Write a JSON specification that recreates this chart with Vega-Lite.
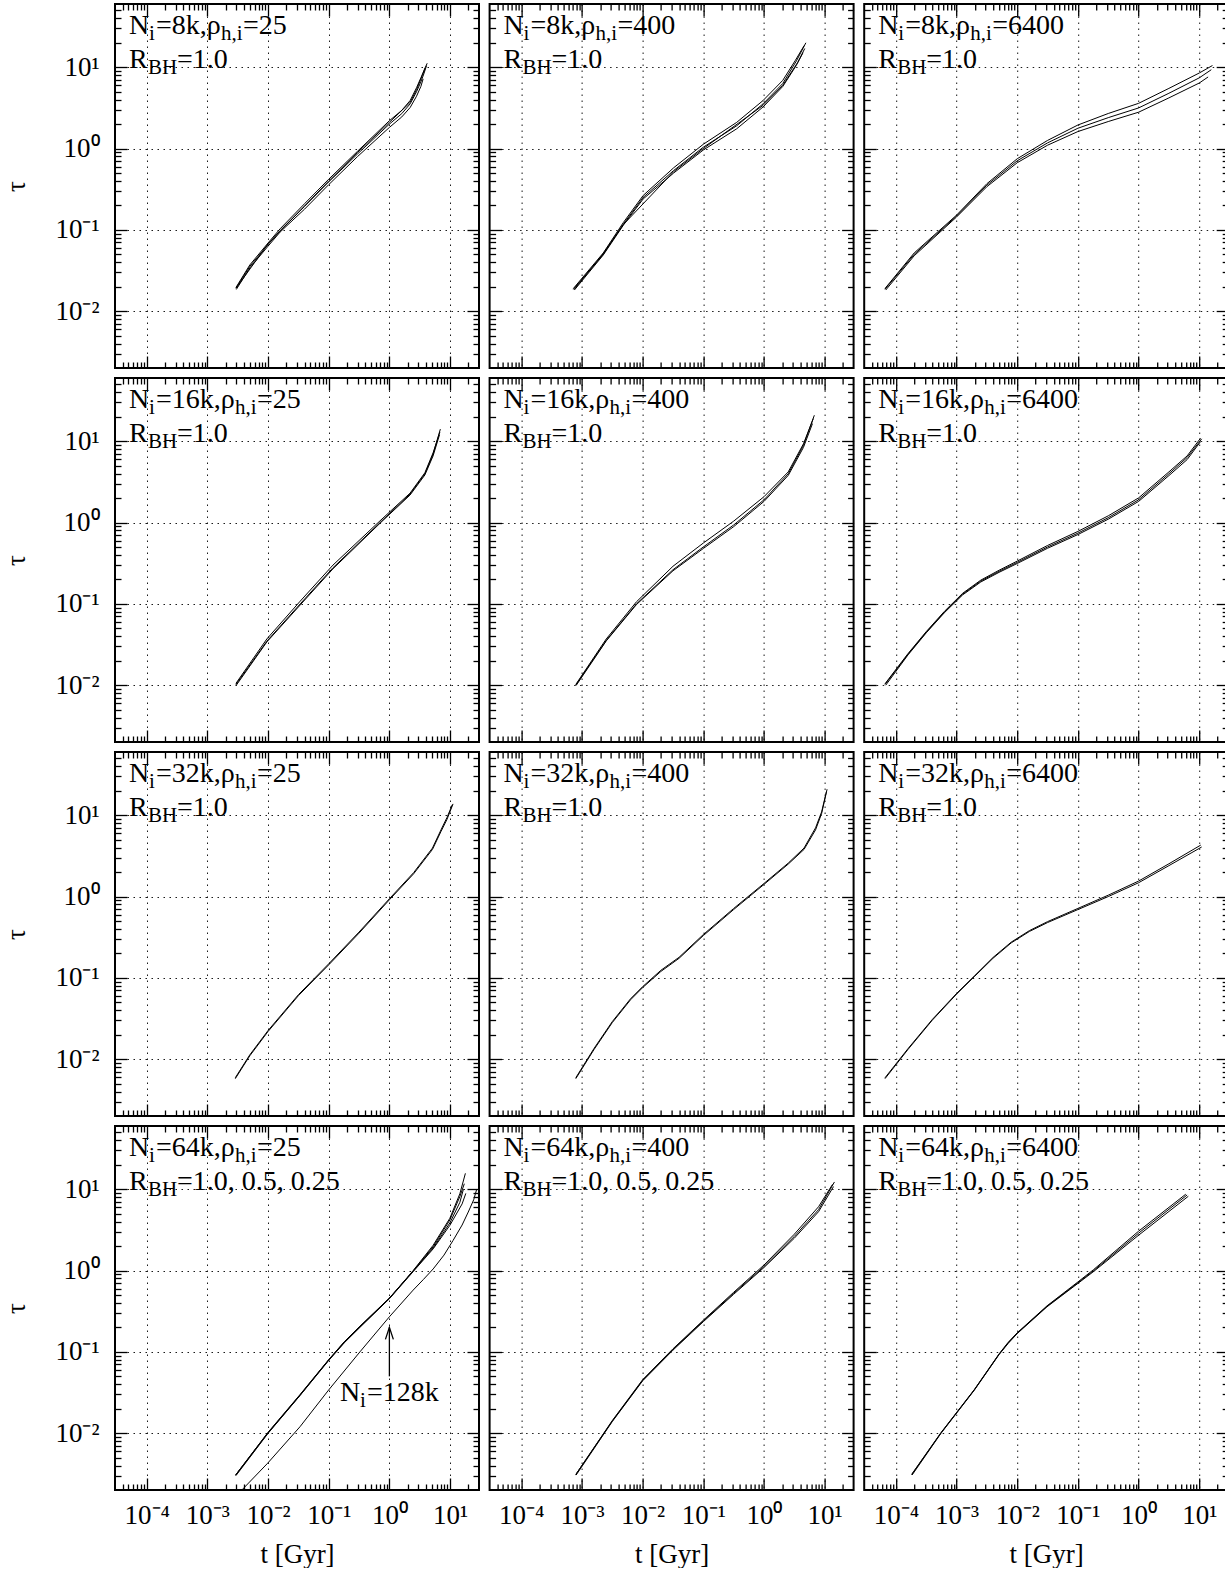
{
"$schema":"https://vega.github.io/schema/vega-lite/v6.json",
"padding":{"left":1,"top":2,"right":0,"bottom":0},
"background":"white",
"config":{
 "view":{"stroke":"black","strokeWidth":2},
 "axis":{"domain":false,"labels":false,"ticks":true,"grid":false,"tickColor":"black","tickWidth":1.3,"tickSize":-12,"labelFont":"Liberation Serif","labelFontSize":27,"labelColor":"black","titleFont":"Liberation Serif","titleFontSize":27,"titleFontWeight":"normal","titleColor":"black","gridColor":"#1a1a1a","gridDash":[1.5,4.5],"gridWidth":1,"gridOpacity":1},
 "axisX":{"labelPadding":12,"titlePadding":13},
 "axisY":{"labelPadding":16,"titlePadding":24},
 "text":{"font":"Liberation Serif","fontSize":28,"align":"left","baseline":"alphabetic","color":"black"},
 "line":{"color":"black","strokeWidth":1}
},
"datasets":{
"panels":[
{"p":1,"a":"=8k,ρ","b":"=25","c":"=1.0"},
{"p":2,"a":"=8k,ρ","b":"=400","c":"=1.0"},
{"p":3,"a":"=8k,ρ","b":"=6400","c":"=1.0"},
{"p":4,"a":"=16k,ρ","b":"=25","c":"=1.0"},
{"p":5,"a":"=16k,ρ","b":"=400","c":"=1.0"},
{"p":6,"a":"=16k,ρ","b":"=6400","c":"=1.0"},
{"p":7,"a":"=32k,ρ","b":"=25","c":"=1.0"},
{"p":8,"a":"=32k,ρ","b":"=400","c":"=1.0"},
{"p":9,"a":"=32k,ρ","b":"=6400","c":"=1.0"},
{"p":10,"a":"=64k,ρ","b":"=25","c":"=1.0, 0.5, 0.25","d":"=128k"},
{"p":11,"a":"=64k,ρ","b":"=400","c":"=1.0, 0.5, 0.25"},
{"p":12,"a":"=64k,ρ","b":"=6400","c":"=1.0, 0.5, 0.25"}
],
"curves":[
{"p":1,"r":"a","t":0.00295,"tau":0.0195},{"p":1,"r":"a","t":0.005,"tau":0.037},{"p":1,"r":"a","t":0.01,"tau":0.069},{"p":1,"r":"a","t":0.0158,"tau":0.103},{"p":1,"r":"a","t":0.04,"tau":0.21},{"p":1,"r":"a","t":0.1,"tau":0.42},{"p":1,"r":"a","t":0.3,"tau":0.93},{"p":1,"r":"a","t":1,"tau":2.2},{"p":1,"r":"a","t":1.6,"tau":2.95},{"p":1,"r":"a","t":2.2,"tau":3.9},{"p":1,"r":"a","t":2.8,"tau":5.6},{"p":1,"r":"a","t":3.3,"tau":7.4},{"p":1,"r":"a","t":3.8,"tau":9.5},{"p":1,"r":"a","t":4.2,"tau":11.2},
{"p":1,"r":"b","t":0.00295,"tau":0.0191},{"p":1,"r":"b","t":0.005,"tau":0.0355},{"p":1,"r":"b","t":0.01,"tau":0.066},{"p":1,"r":"b","t":0.0158,"tau":0.098},{"p":1,"r":"b","t":0.04,"tau":0.195},{"p":1,"r":"b","t":0.1,"tau":0.389},{"p":1,"r":"b","t":0.3,"tau":0.861},{"p":1,"r":"b","t":1,"tau":2.0},{"p":1,"r":"b","t":1.6,"tau":2.69},{"p":1,"r":"b","t":2.2,"tau":3.55},{"p":1,"r":"b","t":2.8,"tau":5.0},{"p":1,"r":"b","t":3.3,"tau":6.6},{"p":1,"r":"b","t":3.7,"tau":8.3},{"p":1,"r":"b","t":4.1,"tau":10.5},
{"p":1,"r":"c","t":0.003,"tau":0.0185},{"p":1,"r":"c","t":0.005,"tau":0.034},{"p":1,"r":"c","t":0.01,"tau":0.063},{"p":1,"r":"c","t":0.0158,"tau":0.094},{"p":1,"r":"c","t":0.04,"tau":0.18},{"p":1,"r":"c","t":0.1,"tau":0.36},{"p":1,"r":"c","t":0.3,"tau":0.8},{"p":1,"r":"c","t":1,"tau":1.82},{"p":1,"r":"c","t":1.6,"tau":2.45},{"p":1,"r":"c","t":2.2,"tau":3.2},{"p":1,"r":"c","t":2.8,"tau":4.4},{"p":1,"r":"c","t":3.3,"tau":5.8},{"p":1,"r":"c","t":3.6,"tau":7.2},
{"p":1,"r":"d","t":0.003,"tau":0.0193},{"p":1,"r":"d","t":0.01,"tau":0.0675},{"p":1,"r":"d","t":0.1,"tau":0.4},{"p":1,"r":"d","t":0.3,"tau":0.9},{"p":1,"r":"d","t":1,"tau":2.1},{"p":1,"r":"d","t":2.2,"tau":3.7},{"p":1,"r":"d","t":2.8,"tau":5.3},{"p":1,"r":"d","t":3.5,"tau":8.0},{"p":1,"r":"d","t":3.9,"tau":9.8},
{"p":2,"r":"a","t":0.00072,"tau":0.019},{"p":2,"r":"a","t":0.00224,"tau":0.052},{"p":2,"r":"a","t":0.0048,"tau":0.123},{"p":2,"r":"a","t":0.0102,"tau":0.265},{"p":2,"r":"a","t":0.0324,"tau":0.58},{"p":2,"r":"a","t":0.1,"tau":1.13},{"p":2,"r":"a","t":0.355,"tau":2.1},{"p":2,"r":"a","t":0.966,"tau":3.9},{"p":2,"r":"a","t":2.04,"tau":6.9},{"p":2,"r":"a","t":3.3,"tau":12.2},{"p":2,"r":"a","t":4.6,"tau":18.5},
{"p":2,"r":"b","t":0.00072,"tau":0.0186},{"p":2,"r":"b","t":0.00224,"tau":0.05},{"p":2,"r":"b","t":0.0048,"tau":0.1175},{"p":2,"r":"b","t":0.0102,"tau":0.251},{"p":2,"r":"b","t":0.0324,"tau":0.537},{"p":2,"r":"b","t":0.1,"tau":1.04},{"p":2,"r":"b","t":0.355,"tau":1.905},{"p":2,"r":"b","t":0.966,"tau":3.55},{"p":2,"r":"b","t":2.04,"tau":6.31},{"p":2,"r":"b","t":3.43,"tau":12.0},{"p":2,"r":"b","t":4.9,"tau":20.0},
{"p":2,"r":"c","t":0.00075,"tau":0.0182},{"p":2,"r":"c","t":0.00224,"tau":0.049},{"p":2,"r":"c","t":0.0048,"tau":0.114},{"p":2,"r":"c","t":0.0102,"tau":0.24},{"p":2,"r":"c","t":0.0324,"tau":0.5},{"p":2,"r":"c","t":0.1,"tau":0.96},{"p":2,"r":"c","t":0.355,"tau":1.75},{"p":2,"r":"c","t":0.966,"tau":3.25},{"p":2,"r":"c","t":2.04,"tau":5.8},{"p":2,"r":"c","t":3.4,"tau":10.5},{"p":2,"r":"c","t":4.4,"tau":15.1},
{"p":2,"r":"d","t":0.00074,"tau":0.0184},{"p":2,"r":"d","t":0.00224,"tau":0.051},{"p":2,"r":"d","t":0.0048,"tau":0.116},{"p":2,"r":"d","t":0.0324,"tau":0.52},{"p":2,"r":"d","t":0.1,"tau":1.0},{"p":2,"r":"d","t":0.966,"tau":3.4},{"p":2,"r":"d","t":2.04,"tau":6.0},{"p":2,"r":"d","t":3.6,"tau":11.5},{"p":2,"r":"d","t":4.7,"tau":17.0},
{"p":3,"r":"a","t":0.000066,"tau":0.019},{"p":3,"r":"a","t":0.0002,"tau":0.052},{"p":3,"r":"a","t":0.001,"tau":0.152},{"p":3,"r":"a","t":0.00316,"tau":0.37},{"p":3,"r":"a","t":0.01,"tau":0.75},{"p":3,"r":"a","t":0.0316,"tau":1.26},{"p":3,"r":"a","t":0.1,"tau":1.95},{"p":3,"r":"a","t":0.316,"tau":2.7},{"p":3,"r":"a","t":1,"tau":3.6},{"p":3,"r":"a","t":3.16,"tau":5.5},{"p":3,"r":"a","t":10,"tau":8.5},{"p":3,"r":"a","t":16.5,"tau":10.5},
{"p":3,"r":"b","t":0.000066,"tau":0.0186},{"p":3,"r":"b","t":0.0002,"tau":0.05},{"p":3,"r":"b","t":0.001,"tau":0.148},{"p":3,"r":"b","t":0.00316,"tau":0.355},{"p":3,"r":"b","t":0.01,"tau":0.708},{"p":3,"r":"b","t":0.0316,"tau":1.175},{"p":3,"r":"b","t":0.1,"tau":1.778},{"p":3,"r":"b","t":0.316,"tau":2.4},{"p":3,"r":"b","t":1,"tau":3.16},{"p":3,"r":"b","t":3.16,"tau":4.79},{"p":3,"r":"b","t":10,"tau":7.41},{"p":3,"r":"b","t":15.8,"tau":9.33},
{"p":3,"r":"c","t":0.000068,"tau":0.0182},{"p":3,"r":"c","t":0.0002,"tau":0.048},{"p":3,"r":"c","t":0.001,"tau":0.144},{"p":3,"r":"c","t":0.00316,"tau":0.34},{"p":3,"r":"c","t":0.01,"tau":0.67},{"p":3,"r":"c","t":0.0316,"tau":1.1},{"p":3,"r":"c","t":0.1,"tau":1.62},{"p":3,"r":"c","t":0.316,"tau":2.15},{"p":3,"r":"c","t":1,"tau":2.8},{"p":3,"r":"c","t":3.16,"tau":4.2},{"p":3,"r":"c","t":10,"tau":6.4},{"p":3,"r":"c","t":14,"tau":7.6},
{"p":4,"r":"a","t":0.00295,"tau":0.0105},{"p":4,"r":"a","t":0.00955,"tau":0.037},{"p":4,"r":"a","t":0.0339,"tau":0.108},{"p":4,"r":"a","t":0.1175,"tau":0.3},{"p":4,"r":"a","t":0.7,"tau":1.05},{"p":4,"r":"a","t":2.19,"tau":2.3},{"p":4,"r":"a","t":3.85,"tau":4.1},{"p":4,"r":"a","t":5.25,"tau":7.2},{"p":4,"r":"a","t":6.8,"tau":13.0},
{"p":4,"r":"b","t":0.00295,"tau":0.0102},{"p":4,"r":"b","t":0.00955,"tau":0.0347},{"p":4,"r":"b","t":0.0339,"tau":0.1},{"p":4,"r":"b","t":0.1175,"tau":0.278},{"p":4,"r":"b","t":0.7,"tau":1.0},{"p":4,"r":"b","t":2.19,"tau":2.24},{"p":4,"r":"b","t":3.85,"tau":3.98},{"p":4,"r":"b","t":5.25,"tau":6.92},{"p":4,"r":"b","t":6.92,"tau":14.1},
{"p":4,"r":"c","t":0.003,"tau":0.01},{"p":4,"r":"c","t":0.00955,"tau":0.034},{"p":4,"r":"c","t":0.0339,"tau":0.097},{"p":4,"r":"c","t":0.1175,"tau":0.27},{"p":4,"r":"c","t":0.7,"tau":0.98},{"p":4,"r":"c","t":2.19,"tau":2.18},{"p":4,"r":"c","t":3.85,"tau":3.85},{"p":4,"r":"c","t":5.25,"tau":6.6},{"p":4,"r":"c","t":6.7,"tau":12.0},
{"p":5,"r":"a","t":0.00079,"tau":0.0102},{"p":5,"r":"a","t":0.00251,"tau":0.037},{"p":5,"r":"a","t":0.0079,"tau":0.106},{"p":5,"r":"a","t":0.0316,"tau":0.29},{"p":5,"r":"a","t":0.1,"tau":0.56},{"p":5,"r":"a","t":0.316,"tau":1.04},{"p":5,"r":"a","t":1,"tau":2.08},{"p":5,"r":"a","t":2.51,"tau":4.2},{"p":5,"r":"a","t":4.47,"tau":9.3},{"p":5,"r":"a","t":6.5,"tau":19.0},
{"p":5,"r":"b","t":0.00079,"tau":0.01},{"p":5,"r":"b","t":0.00251,"tau":0.0355},{"p":5,"r":"b","t":0.0079,"tau":0.1},{"p":5,"r":"b","t":0.0316,"tau":0.263},{"p":5,"r":"b","t":0.1,"tau":0.501},{"p":5,"r":"b","t":0.316,"tau":0.933},{"p":5,"r":"b","t":1,"tau":1.905},{"p":5,"r":"b","t":2.51,"tau":3.98},{"p":5,"r":"b","t":4.47,"tau":8.91},{"p":5,"r":"b","t":6.76,"tau":20.9},
{"p":5,"r":"c","t":0.0008,"tau":0.0099},{"p":5,"r":"c","t":0.00251,"tau":0.035},{"p":5,"r":"c","t":0.0079,"tau":0.098},{"p":5,"r":"c","t":0.0316,"tau":0.255},{"p":5,"r":"c","t":0.1,"tau":0.48},{"p":5,"r":"c","t":0.316,"tau":0.89},{"p":5,"r":"c","t":1,"tau":1.82},{"p":5,"r":"c","t":2.51,"tau":3.8},{"p":5,"r":"c","t":4.47,"tau":8.4},{"p":5,"r":"c","t":6.3,"tau":16.5},
{"p":6,"r":"a","t":0.000066,"tau":0.0104},{"p":6,"r":"a","t":0.0001585,"tau":0.0245},{"p":6,"r":"a","t":0.000316,"tau":0.0456},{"p":6,"r":"a","t":0.000631,"tau":0.081},{"p":6,"r":"a","t":0.00126,"tau":0.135},{"p":6,"r":"a","t":0.00251,"tau":0.196},{"p":6,"r":"a","t":0.00501,"tau":0.259},{"p":6,"r":"a","t":0.01,"tau":0.336},{"p":6,"r":"a","t":0.0316,"tau":0.523},{"p":6,"r":"a","t":0.1,"tau":0.778},{"p":6,"r":"a","t":0.316,"tau":1.21},{"p":6,"r":"a","t":1,"tau":2.01},{"p":6,"r":"a","t":3.16,"tau":4.2},{"p":6,"r":"a","t":6.31,"tau":6.6},{"p":6,"r":"a","t":10.5,"tau":10.9},
{"p":6,"r":"b","t":0.000066,"tau":0.0102},{"p":6,"r":"b","t":0.0001585,"tau":0.024},{"p":6,"r":"b","t":0.000316,"tau":0.0447},{"p":6,"r":"b","t":0.000631,"tau":0.0794},{"p":6,"r":"b","t":0.00126,"tau":0.132},{"p":6,"r":"b","t":0.00251,"tau":0.191},{"p":6,"r":"b","t":0.00501,"tau":0.251},{"p":6,"r":"b","t":0.01,"tau":0.324},{"p":6,"r":"b","t":0.0316,"tau":0.501},{"p":6,"r":"b","t":0.1,"tau":0.741},{"p":6,"r":"b","t":0.316,"tau":1.148},{"p":6,"r":"b","t":1,"tau":1.905},{"p":6,"r":"b","t":3.16,"tau":3.98},{"p":6,"r":"b","t":6.31,"tau":6.31},{"p":6,"r":"b","t":10.96,"tau":10.7},
{"p":6,"r":"c","t":0.000068,"tau":0.01},{"p":6,"r":"c","t":0.0001585,"tau":0.0236},{"p":6,"r":"c","t":0.000316,"tau":0.044},{"p":6,"r":"c","t":0.000631,"tau":0.078},{"p":6,"r":"c","t":0.00126,"tau":0.129},{"p":6,"r":"c","t":0.00251,"tau":0.186},{"p":6,"r":"c","t":0.00501,"tau":0.244},{"p":6,"r":"c","t":0.01,"tau":0.314},{"p":6,"r":"c","t":0.0316,"tau":0.483},{"p":6,"r":"c","t":0.1,"tau":0.712},{"p":6,"r":"c","t":0.316,"tau":1.1},{"p":6,"r":"c","t":1,"tau":1.82},{"p":6,"r":"c","t":3.16,"tau":3.78},{"p":6,"r":"c","t":6.31,"tau":5.95},{"p":6,"r":"c","t":10.5,"tau":9.9},
{"p":7,"r":"a","t":0.00288,"tau":0.0059},{"p":7,"r":"a","t":0.005,"tau":0.0113},{"p":7,"r":"a","t":0.01,"tau":0.0225},{"p":7,"r":"a","t":0.0316,"tau":0.062},{"p":7,"r":"a","t":0.1,"tau":0.149},{"p":7,"r":"a","t":0.316,"tau":0.366},{"p":7,"r":"a","t":1,"tau":0.94},{"p":7,"r":"a","t":2.51,"tau":1.97},{"p":7,"r":"a","t":5.13,"tau":3.95},{"p":7,"r":"a","t":7.08,"tau":6.6},{"p":7,"r":"a","t":8.91,"tau":9.4},{"p":7,"r":"a","t":10.9,"tau":13.5},
{"p":7,"r":"b","t":0.00288,"tau":0.00575},{"p":7,"r":"b","t":0.005,"tau":0.011},{"p":7,"r":"b","t":0.01,"tau":0.0219},{"p":7,"r":"b","t":0.0316,"tau":0.0603},{"p":7,"r":"b","t":0.1,"tau":0.1445},{"p":7,"r":"b","t":0.316,"tau":0.355},{"p":7,"r":"b","t":1,"tau":0.912},{"p":7,"r":"b","t":2.51,"tau":1.905},{"p":7,"r":"b","t":5.13,"tau":3.8},{"p":7,"r":"b","t":7.08,"tau":6.31},{"p":7,"r":"b","t":8.91,"tau":8.91},{"p":7,"r":"b","t":11.2,"tau":13.8},
{"p":8,"r":"a","t":0.00079,"tau":0.0059},{"p":8,"r":"a","t":0.001585,"tau":0.0136},{"p":8,"r":"a","t":0.00316,"tau":0.029},{"p":8,"r":"a","t":0.00631,"tau":0.0553},{"p":8,"r":"a","t":0.01,"tau":0.078},{"p":8,"r":"a","t":0.02,"tau":0.124},{"p":8,"r":"a","t":0.0398,"tau":0.179},{"p":8,"r":"a","t":0.1,"tau":0.341},{"p":8,"r":"a","t":0.316,"tau":0.713},{"p":8,"r":"a","t":1,"tau":1.45},{"p":8,"r":"a","t":2.51,"tau":2.58},{"p":8,"r":"a","t":4.57,"tau":3.95},{"p":8,"r":"a","t":7.08,"tau":7.0},{"p":8,"r":"a","t":8.91,"tau":11.0},{"p":8,"r":"a","t":10.7,"tau":19.5},
{"p":8,"r":"b","t":0.00079,"tau":0.00575},{"p":8,"r":"b","t":0.001585,"tau":0.0132},{"p":8,"r":"b","t":0.00316,"tau":0.0282},{"p":8,"r":"b","t":0.00631,"tau":0.0537},{"p":8,"r":"b","t":0.01,"tau":0.0759},{"p":8,"r":"b","t":0.02,"tau":0.12},{"p":8,"r":"b","t":0.0398,"tau":0.174},{"p":8,"r":"b","t":0.1,"tau":0.331},{"p":8,"r":"b","t":0.316,"tau":0.692},{"p":8,"r":"b","t":1,"tau":1.41},{"p":8,"r":"b","t":2.51,"tau":2.51},{"p":8,"r":"b","t":4.57,"tau":3.8},{"p":8,"r":"b","t":7.08,"tau":6.61},{"p":8,"r":"b","t":8.91,"tau":10.5},{"p":8,"r":"b","t":10.96,"tau":20.9},
{"p":9,"r":"a","t":0.000066,"tau":0.0059},{"p":9,"r":"a","t":0.0001585,"tau":0.0135},{"p":9,"r":"a","t":0.000398,"tau":0.0308},{"p":9,"r":"a","t":0.001,"tau":0.0644},{"p":9,"r":"a","t":0.002,"tau":0.107},{"p":9,"r":"a","t":0.00398,"tau":0.178},{"p":9,"r":"a","t":0.00794,"tau":0.275},{"p":9,"r":"a","t":0.01585,"tau":0.381},{"p":9,"r":"a","t":0.0316,"tau":0.492},{"p":9,"r":"a","t":0.1,"tau":0.715},{"p":9,"r":"a","t":0.316,"tau":1.04},{"p":9,"r":"a","t":1,"tau":1.55},{"p":9,"r":"a","t":3.16,"tau":2.53},{"p":9,"r":"a","t":10.6,"tau":4.3},
{"p":9,"r":"b","t":0.000066,"tau":0.00575},{"p":9,"r":"b","t":0.0001585,"tau":0.0132},{"p":9,"r":"b","t":0.000398,"tau":0.0302},{"p":9,"r":"b","t":0.001,"tau":0.0631},{"p":9,"r":"b","t":0.002,"tau":0.105},{"p":9,"r":"b","t":0.00398,"tau":0.174},{"p":9,"r":"b","t":0.00794,"tau":0.269},{"p":9,"r":"b","t":0.01585,"tau":0.372},{"p":9,"r":"b","t":0.0316,"tau":0.479},{"p":9,"r":"b","t":0.1,"tau":0.692},{"p":9,"r":"b","t":0.316,"tau":1.0},{"p":9,"r":"b","t":1,"tau":1.479},{"p":9,"r":"b","t":3.16,"tau":2.4},{"p":9,"r":"b","t":10.96,"tau":4.07},
{"p":10,"r":"a","t":0.00292,"tau":0.00306},{"p":10,"r":"a","t":0.00984,"tau":0.01},{"p":10,"r":"a","t":0.0336,"tau":0.0295},{"p":10,"r":"a","t":0.0995,"tau":0.0794},{"p":10,"r":"a","t":0.18,"tau":0.132},{"p":10,"r":"a","t":0.327,"tau":0.205},{"p":10,"r":"a","t":1,"tau":0.457},{"p":10,"r":"a","t":2.466,"tau":1.0},{"p":10,"r":"a","t":5.27,"tau":2.05},{"p":10,"r":"a","t":9.93,"tau":4.4},{"p":10,"r":"a","t":14.5,"tau":8.8},{"p":10,"r":"a","t":17.9,"tau":15.7},
{"p":10,"r":"b","t":0.00292,"tau":0.00303},{"p":10,"r":"b","t":0.00984,"tau":0.0099},{"p":10,"r":"b","t":0.0336,"tau":0.0292},{"p":10,"r":"b","t":0.0995,"tau":0.079},{"p":10,"r":"b","t":0.18,"tau":0.13},{"p":10,"r":"b","t":0.327,"tau":0.203},{"p":10,"r":"b","t":1,"tau":0.453},{"p":10,"r":"b","t":2.466,"tau":0.99},{"p":10,"r":"b","t":5.27,"tau":1.97},{"p":10,"r":"b","t":9.93,"tau":4.19},{"p":10,"r":"b","t":14.5,"tau":8.13},{"p":10,"r":"b","t":17.2,"tau":11.7},
{"p":10,"r":"c","t":0.00295,"tau":0.00309},{"p":10,"r":"c","t":0.00984,"tau":0.0101},{"p":10,"r":"c","t":0.0336,"tau":0.0298},{"p":10,"r":"c","t":0.0995,"tau":0.08},{"p":10,"r":"c","t":0.18,"tau":0.133},{"p":10,"r":"c","t":0.327,"tau":0.207},{"p":10,"r":"c","t":1,"tau":0.46},{"p":10,"r":"c","t":2.466,"tau":0.985},{"p":10,"r":"c","t":5.27,"tau":1.9},{"p":10,"r":"c","t":9.93,"tau":3.85},{"p":10,"r":"c","t":14.5,"tau":6.9},{"p":10,"r":"c","t":16.6,"tau":10.0},
{"p":10,"r":"d","t":0.00295,"tau":0.003},{"p":10,"r":"d","t":0.00984,"tau":0.0098},{"p":10,"r":"d","t":0.0336,"tau":0.029},{"p":10,"r":"d","t":0.0995,"tau":0.078},{"p":10,"r":"d","t":0.18,"tau":0.129},{"p":10,"r":"d","t":0.327,"tau":0.2},{"p":10,"r":"d","t":1,"tau":0.45},{"p":10,"r":"d","t":2.466,"tau":0.97},{"p":10,"r":"d","t":5.27,"tau":1.85},{"p":10,"r":"d","t":9.93,"tau":3.6},{"p":10,"r":"d","t":15.8,"tau":6.6},{"p":10,"r":"d","t":18.2,"tau":8.9},
{"p":10,"r":"h","t":0.00382,"tau":0.00205},{"p":10,"r":"h","t":0.00984,"tau":0.00427},{"p":10,"r":"h","t":0.0336,"tau":0.012},{"p":10,"r":"h","t":0.0995,"tau":0.0339},{"p":10,"r":"h","t":0.327,"tau":0.1},{"p":10,"r":"h","t":1,"tau":0.27},{"p":10,"r":"h","t":2.466,"tau":0.575},{"p":10,"r":"h","t":3.63,"tau":0.776},{"p":10,"r":"h","t":5.27,"tau":1.047},{"p":10,"r":"h","t":7.94,"tau":1.549},{"p":10,"r":"h","t":11.2,"tau":2.344},{"p":10,"r":"h","t":15.8,"tau":3.63},{"p":10,"r":"h","t":19.95,"tau":5.25},{"p":10,"r":"h","t":24.5,"tau":7.41},{"p":10,"r":"h","t":27.5,"tau":10.0},
{"p":11,"r":"a","t":0.00079,"tau":0.0031},{"p":11,"r":"a","t":0.00316,"tau":0.0143},{"p":11,"r":"a","t":0.01,"tau":0.0455},{"p":11,"r":"a","t":0.0316,"tau":0.109},{"p":11,"r":"a","t":0.1,"tau":0.245},{"p":11,"r":"a","t":0.316,"tau":0.54},{"p":11,"r":"a","t":1,"tau":1.17},{"p":11,"r":"a","t":3.16,"tau":2.8},{"p":11,"r":"a","t":7.94,"tau":6.1},{"p":11,"r":"a","t":13.5,"tau":11.5},
{"p":11,"r":"b","t":0.00079,"tau":0.0031},{"p":11,"r":"b","t":0.00316,"tau":0.0141},{"p":11,"r":"b","t":0.01,"tau":0.0447},{"p":11,"r":"b","t":0.0316,"tau":0.107},{"p":11,"r":"b","t":0.1,"tau":0.24},{"p":11,"r":"b","t":0.316,"tau":0.525},{"p":11,"r":"b","t":1,"tau":1.122},{"p":11,"r":"b","t":3.16,"tau":2.63},{"p":11,"r":"b","t":7.94,"tau":5.62},{"p":11,"r":"b","t":14.5,"tau":12.3},
{"p":11,"r":"c","t":0.0008,"tau":0.00305},{"p":11,"r":"c","t":0.00316,"tau":0.0139},{"p":11,"r":"c","t":0.01,"tau":0.044},{"p":11,"r":"c","t":0.0316,"tau":0.105},{"p":11,"r":"c","t":0.1,"tau":0.235},{"p":11,"r":"c","t":0.316,"tau":0.51},{"p":11,"r":"c","t":1,"tau":1.09},{"p":11,"r":"c","t":3.16,"tau":2.5},{"p":11,"r":"c","t":7.94,"tau":5.3},{"p":11,"r":"c","t":14,"tau":10.8},
{"p":12,"r":"a","t":0.000182,"tau":0.00312},{"p":12,"r":"a","t":0.00055,"tau":0.0101},{"p":12,"r":"a","t":0.00195,"tau":0.0342},{"p":12,"r":"a","t":0.00501,"tau":0.0943},{"p":12,"r":"a","t":0.00708,"tau":0.131},{"p":12,"r":"a","t":0.01,"tau":0.172},{"p":12,"r":"a","t":0.0309,"tau":0.368},{"p":12,"r":"a","t":0.1,"tau":0.725},{"p":12,"r":"a","t":0.182,"tau":1.03},{"p":12,"r":"a","t":1,"tau":3.05},{"p":12,"r":"a","t":6.0,"tau":8.7},
{"p":12,"r":"b","t":0.000182,"tau":0.00309},{"p":12,"r":"b","t":0.00055,"tau":0.01},{"p":12,"r":"b","t":0.00195,"tau":0.0339},{"p":12,"r":"b","t":0.00501,"tau":0.0933},{"p":12,"r":"b","t":0.00708,"tau":0.129},{"p":12,"r":"b","t":0.01,"tau":0.17},{"p":12,"r":"b","t":0.0309,"tau":0.363},{"p":12,"r":"b","t":0.1,"tau":0.708},{"p":12,"r":"b","t":0.182,"tau":1.0},{"p":12,"r":"b","t":1,"tau":2.88},{"p":12,"r":"b","t":6.31,"tau":8.51},
{"p":12,"r":"c","t":0.000185,"tau":0.00306},{"p":12,"r":"c","t":0.00055,"tau":0.0099},{"p":12,"r":"c","t":0.00195,"tau":0.0336},{"p":12,"r":"c","t":0.00501,"tau":0.0925},{"p":12,"r":"c","t":0.00708,"tau":0.127},{"p":12,"r":"c","t":0.01,"tau":0.168},{"p":12,"r":"c","t":0.0309,"tau":0.358},{"p":12,"r":"c","t":0.1,"tau":0.695},{"p":12,"r":"c","t":0.182,"tau":0.975},{"p":12,"r":"c","t":1,"tau":2.72},{"p":12,"r":"c","t":6.6,"tau":8.2}
]
},
"columns":3,
"spacing":{"row":6,"column":6.6},
"concat":[
{"width":364,"height":364,"resolve":{"axis":{"x":"independent","y":"independent"}},"layer":[
 {"data":{"name":"curves"},"transform":[{"filter":"datum.p==1"}],"mark":{"type":"line","clip":true},"encoding":{
  "x":{"field":"t","type":"quantitative","scale":{"type":"log","domain":[0.00003,30],"nice":false},"axis":{"orient":"bottom","values":[0.0001,0.001,0.01,0.1,1,10],"grid":true,"ticks":false,"title":null}},
  "y":{"field":"tau","type":"quantitative","scale":{"type":"log","domain":[0.002,60],"nice":false},"axis":{"orient":"left","values":[0.01,0.1,1,10],"grid":true,"ticks":false,"labels":true,"labelOverlap":false,"labelExpr":"datum.value < 0.0005 ? '10⁻⁴' : datum.value < 0.005 ? '10⁻³' : datum.value < 0.05 ? '10⁻²' : datum.value < 0.5 ? '10⁻¹' : datum.value < 5 ? '10⁰' : '10¹'","title":"τ"}},
  "detail":{"field":"r"}}},
 {"data":{"name":"panels"},"transform":[{"filter":"datum.p==1"}],"resolve":{"axis":{"x":"independent","y":"independent"}},"layer":[
  {"mark":{"type":"text","text":"N"},"encoding":{"x":{"datum":0.000051,"type":"quantitative","scale":{"type":"log","domain":[0.00003,30],"nice":false},"axis":{"orient":"bottom","values":[0.0001,0.001,0.01,0.1,1,10],"title":null}},"y":{"datum":25.5,"type":"quantitative","scale":{"type":"log","domain":[0.002,60],"nice":false},"axis":{"orient":"left","values":[0.01,0.1,1,10],"title":null}}}},
  {"mark":{"type":"text","text":"i","fontSize":21,"dx":20,"dy":6},"encoding":{"x":{"datum":0.000051,"type":"quantitative","scale":{"type":"log","domain":[0.00003,30],"nice":false},"axis":{"orient":"bottom","tickSize":-6,"values":[0.00004,0.00005,0.00006,0.00007,0.00008,0.00009,0.0002,0.0003,0.0004,0.0005,0.0006,0.0007,0.0008,0.0009,0.002,0.003,0.004,0.005,0.006,0.007,0.008,0.009,0.02,0.03,0.04,0.05,0.06,0.07,0.08,0.09,0.2,0.3,0.4,0.5,0.6,0.7,0.8,0.9,2,3,4,5,6,7,8,9,20],"title":null}},"y":{"datum":25.5,"type":"quantitative","scale":{"type":"log","domain":[0.002,60],"nice":false},"axis":{"orient":"left","tickSize":-6,"values":[0.003,0.004,0.005,0.006,0.007,0.008,0.009,0.02,0.03,0.04,0.05,0.06,0.07,0.08,0.09,0.2,0.3,0.4,0.5,0.6,0.7,0.8,0.9,2,3,4,5,6,7,8,9,20,30,40,50],"title":null}}}},
  {"mark":{"type":"text","dx":27},"encoding":{"text":{"field":"a"},"x":{"datum":0.000051,"type":"quantitative","scale":{"type":"log","domain":[0.00003,30],"nice":false},"axis":{"orient":"top","values":[0.0001,0.001,0.01,0.1,1,10],"title":null}},"y":{"datum":25.5,"type":"quantitative","scale":{"type":"log","domain":[0.002,60],"nice":false},"axis":{"orient":"right","values":[0.01,0.1,1,10],"title":null}}}},
  {"mark":{"type":"text","text":"h,i","fontSize":21,"dx":92,"dy":6},"encoding":{"x":{"datum":0.000051,"type":"quantitative","scale":{"type":"log","domain":[0.00003,30],"nice":false},"axis":{"orient":"top","tickSize":-6,"values":[0.00004,0.00005,0.00006,0.00007,0.00008,0.00009,0.0002,0.0003,0.0004,0.0005,0.0006,0.0007,0.0008,0.0009,0.002,0.003,0.004,0.005,0.006,0.007,0.008,0.009,0.02,0.03,0.04,0.05,0.06,0.07,0.08,0.09,0.2,0.3,0.4,0.5,0.6,0.7,0.8,0.9,2,3,4,5,6,7,8,9,20],"title":null}},"y":{"datum":25.5,"type":"quantitative","scale":{"type":"log","domain":[0.002,60],"nice":false},"axis":{"orient":"right","tickSize":-6,"values":[0.003,0.004,0.005,0.006,0.007,0.008,0.009,0.02,0.03,0.04,0.05,0.06,0.07,0.08,0.09,0.2,0.3,0.4,0.5,0.6,0.7,0.8,0.9,2,3,4,5,6,7,8,9,20,30,40,50],"title":null}}}},
  {"mark":{"type":"text","dx":114},"encoding":{"text":{"field":"b"},"x":{"datum":0.000051,"type":"quantitative","scale":{"type":"log","domain":[0.00003,30],"nice":false},"axis":null},"y":{"datum":25.5,"type":"quantitative","scale":{"type":"log","domain":[0.002,60],"nice":false},"axis":null}}},
  {"mark":{"type":"text","text":"R"},"encoding":{"x":{"datum":0.000051,"type":"quantitative","scale":{"type":"log","domain":[0.00003,30],"nice":false},"axis":null},"y":{"datum":9.8,"type":"quantitative","scale":{"type":"log","domain":[0.002,60],"nice":false},"axis":null}}},
  {"mark":{"type":"text","text":"BH","fontSize":21,"dx":19,"dy":6},"encoding":{"x":{"datum":0.000051,"type":"quantitative","scale":{"type":"log","domain":[0.00003,30],"nice":false},"axis":null},"y":{"datum":9.8,"type":"quantitative","scale":{"type":"log","domain":[0.002,60],"nice":false},"axis":null}}},
  {"mark":{"type":"text","dx":48},"encoding":{"text":{"field":"c"},"x":{"datum":0.000051,"type":"quantitative","scale":{"type":"log","domain":[0.00003,30],"nice":false},"axis":null},"y":{"datum":9.8,"type":"quantitative","scale":{"type":"log","domain":[0.002,60],"nice":false},"axis":null}}}
 ]}
]},
{"width":364,"height":364,"resolve":{"axis":{"x":"independent","y":"independent"}},"layer":[
 {"data":{"name":"curves"},"transform":[{"filter":"datum.p==2"}],"mark":{"type":"line","clip":true},"encoding":{
  "x":{"field":"t","type":"quantitative","scale":{"type":"log","domain":[0.00003,30],"nice":false},"axis":{"orient":"bottom","values":[0.0001,0.001,0.01,0.1,1,10],"grid":true,"ticks":false,"title":null}},
  "y":{"field":"tau","type":"quantitative","scale":{"type":"log","domain":[0.002,60],"nice":false},"axis":{"orient":"left","values":[0.01,0.1,1,10],"grid":true,"ticks":false,"title":null}},
  "detail":{"field":"r"}}},
 {"data":{"name":"panels"},"transform":[{"filter":"datum.p==2"}],"resolve":{"axis":{"x":"independent","y":"independent"}},"layer":[
  {"mark":{"type":"text","text":"N"},"encoding":{"x":{"datum":0.000051,"type":"quantitative","scale":{"type":"log","domain":[0.00003,30],"nice":false},"axis":{"orient":"bottom","values":[0.0001,0.001,0.01,0.1,1,10],"title":null}},"y":{"datum":25.5,"type":"quantitative","scale":{"type":"log","domain":[0.002,60],"nice":false},"axis":{"orient":"left","values":[0.01,0.1,1,10],"title":null}}}},
  {"mark":{"type":"text","text":"i","fontSize":21,"dx":20,"dy":6},"encoding":{"x":{"datum":0.000051,"type":"quantitative","scale":{"type":"log","domain":[0.00003,30],"nice":false},"axis":{"orient":"bottom","tickSize":-6,"values":[0.00004,0.00005,0.00006,0.00007,0.00008,0.00009,0.0002,0.0003,0.0004,0.0005,0.0006,0.0007,0.0008,0.0009,0.002,0.003,0.004,0.005,0.006,0.007,0.008,0.009,0.02,0.03,0.04,0.05,0.06,0.07,0.08,0.09,0.2,0.3,0.4,0.5,0.6,0.7,0.8,0.9,2,3,4,5,6,7,8,9,20],"title":null}},"y":{"datum":25.5,"type":"quantitative","scale":{"type":"log","domain":[0.002,60],"nice":false},"axis":{"orient":"left","tickSize":-6,"values":[0.003,0.004,0.005,0.006,0.007,0.008,0.009,0.02,0.03,0.04,0.05,0.06,0.07,0.08,0.09,0.2,0.3,0.4,0.5,0.6,0.7,0.8,0.9,2,3,4,5,6,7,8,9,20,30,40,50],"title":null}}}},
  {"mark":{"type":"text","dx":27},"encoding":{"text":{"field":"a"},"x":{"datum":0.000051,"type":"quantitative","scale":{"type":"log","domain":[0.00003,30],"nice":false},"axis":{"orient":"top","values":[0.0001,0.001,0.01,0.1,1,10],"title":null}},"y":{"datum":25.5,"type":"quantitative","scale":{"type":"log","domain":[0.002,60],"nice":false},"axis":{"orient":"right","values":[0.01,0.1,1,10],"title":null}}}},
  {"mark":{"type":"text","text":"h,i","fontSize":21,"dx":92,"dy":6},"encoding":{"x":{"datum":0.000051,"type":"quantitative","scale":{"type":"log","domain":[0.00003,30],"nice":false},"axis":{"orient":"top","tickSize":-6,"values":[0.00004,0.00005,0.00006,0.00007,0.00008,0.00009,0.0002,0.0003,0.0004,0.0005,0.0006,0.0007,0.0008,0.0009,0.002,0.003,0.004,0.005,0.006,0.007,0.008,0.009,0.02,0.03,0.04,0.05,0.06,0.07,0.08,0.09,0.2,0.3,0.4,0.5,0.6,0.7,0.8,0.9,2,3,4,5,6,7,8,9,20],"title":null}},"y":{"datum":25.5,"type":"quantitative","scale":{"type":"log","domain":[0.002,60],"nice":false},"axis":{"orient":"right","tickSize":-6,"values":[0.003,0.004,0.005,0.006,0.007,0.008,0.009,0.02,0.03,0.04,0.05,0.06,0.07,0.08,0.09,0.2,0.3,0.4,0.5,0.6,0.7,0.8,0.9,2,3,4,5,6,7,8,9,20,30,40,50],"title":null}}}},
  {"mark":{"type":"text","dx":114},"encoding":{"text":{"field":"b"},"x":{"datum":0.000051,"type":"quantitative","scale":{"type":"log","domain":[0.00003,30],"nice":false},"axis":null},"y":{"datum":25.5,"type":"quantitative","scale":{"type":"log","domain":[0.002,60],"nice":false},"axis":null}}},
  {"mark":{"type":"text","text":"R"},"encoding":{"x":{"datum":0.000051,"type":"quantitative","scale":{"type":"log","domain":[0.00003,30],"nice":false},"axis":null},"y":{"datum":9.8,"type":"quantitative","scale":{"type":"log","domain":[0.002,60],"nice":false},"axis":null}}},
  {"mark":{"type":"text","text":"BH","fontSize":21,"dx":19,"dy":6},"encoding":{"x":{"datum":0.000051,"type":"quantitative","scale":{"type":"log","domain":[0.00003,30],"nice":false},"axis":null},"y":{"datum":9.8,"type":"quantitative","scale":{"type":"log","domain":[0.002,60],"nice":false},"axis":null}}},
  {"mark":{"type":"text","dx":48},"encoding":{"text":{"field":"c"},"x":{"datum":0.000051,"type":"quantitative","scale":{"type":"log","domain":[0.00003,30],"nice":false},"axis":null},"y":{"datum":9.8,"type":"quantitative","scale":{"type":"log","domain":[0.002,60],"nice":false},"axis":null}}}
 ]}
]},
{"width":364,"height":364,"resolve":{"axis":{"x":"independent","y":"independent"}},"layer":[
 {"data":{"name":"curves"},"transform":[{"filter":"datum.p==3"}],"mark":{"type":"line","clip":true},"encoding":{
  "x":{"field":"t","type":"quantitative","scale":{"type":"log","domain":[0.00003,30],"nice":false},"axis":{"orient":"bottom","values":[0.0001,0.001,0.01,0.1,1,10],"grid":true,"ticks":false,"title":null}},
  "y":{"field":"tau","type":"quantitative","scale":{"type":"log","domain":[0.002,60],"nice":false},"axis":{"orient":"left","values":[0.01,0.1,1,10],"grid":true,"ticks":false,"title":null}},
  "detail":{"field":"r"}}},
 {"data":{"name":"panels"},"transform":[{"filter":"datum.p==3"}],"resolve":{"axis":{"x":"independent","y":"independent"}},"layer":[
  {"mark":{"type":"text","text":"N"},"encoding":{"x":{"datum":0.000051,"type":"quantitative","scale":{"type":"log","domain":[0.00003,30],"nice":false},"axis":{"orient":"bottom","values":[0.0001,0.001,0.01,0.1,1,10],"title":null}},"y":{"datum":25.5,"type":"quantitative","scale":{"type":"log","domain":[0.002,60],"nice":false},"axis":{"orient":"left","values":[0.01,0.1,1,10],"title":null}}}},
  {"mark":{"type":"text","text":"i","fontSize":21,"dx":20,"dy":6},"encoding":{"x":{"datum":0.000051,"type":"quantitative","scale":{"type":"log","domain":[0.00003,30],"nice":false},"axis":{"orient":"bottom","tickSize":-6,"values":[0.00004,0.00005,0.00006,0.00007,0.00008,0.00009,0.0002,0.0003,0.0004,0.0005,0.0006,0.0007,0.0008,0.0009,0.002,0.003,0.004,0.005,0.006,0.007,0.008,0.009,0.02,0.03,0.04,0.05,0.06,0.07,0.08,0.09,0.2,0.3,0.4,0.5,0.6,0.7,0.8,0.9,2,3,4,5,6,7,8,9,20],"title":null}},"y":{"datum":25.5,"type":"quantitative","scale":{"type":"log","domain":[0.002,60],"nice":false},"axis":{"orient":"left","tickSize":-6,"values":[0.003,0.004,0.005,0.006,0.007,0.008,0.009,0.02,0.03,0.04,0.05,0.06,0.07,0.08,0.09,0.2,0.3,0.4,0.5,0.6,0.7,0.8,0.9,2,3,4,5,6,7,8,9,20,30,40,50],"title":null}}}},
  {"mark":{"type":"text","dx":27},"encoding":{"text":{"field":"a"},"x":{"datum":0.000051,"type":"quantitative","scale":{"type":"log","domain":[0.00003,30],"nice":false},"axis":{"orient":"top","values":[0.0001,0.001,0.01,0.1,1,10],"title":null}},"y":{"datum":25.5,"type":"quantitative","scale":{"type":"log","domain":[0.002,60],"nice":false},"axis":{"orient":"right","values":[0.01,0.1,1,10],"title":null}}}},
  {"mark":{"type":"text","text":"h,i","fontSize":21,"dx":92,"dy":6},"encoding":{"x":{"datum":0.000051,"type":"quantitative","scale":{"type":"log","domain":[0.00003,30],"nice":false},"axis":{"orient":"top","tickSize":-6,"values":[0.00004,0.00005,0.00006,0.00007,0.00008,0.00009,0.0002,0.0003,0.0004,0.0005,0.0006,0.0007,0.0008,0.0009,0.002,0.003,0.004,0.005,0.006,0.007,0.008,0.009,0.02,0.03,0.04,0.05,0.06,0.07,0.08,0.09,0.2,0.3,0.4,0.5,0.6,0.7,0.8,0.9,2,3,4,5,6,7,8,9,20],"title":null}},"y":{"datum":25.5,"type":"quantitative","scale":{"type":"log","domain":[0.002,60],"nice":false},"axis":{"orient":"right","tickSize":-6,"values":[0.003,0.004,0.005,0.006,0.007,0.008,0.009,0.02,0.03,0.04,0.05,0.06,0.07,0.08,0.09,0.2,0.3,0.4,0.5,0.6,0.7,0.8,0.9,2,3,4,5,6,7,8,9,20,30,40,50],"title":null}}}},
  {"mark":{"type":"text","dx":114},"encoding":{"text":{"field":"b"},"x":{"datum":0.000051,"type":"quantitative","scale":{"type":"log","domain":[0.00003,30],"nice":false},"axis":null},"y":{"datum":25.5,"type":"quantitative","scale":{"type":"log","domain":[0.002,60],"nice":false},"axis":null}}},
  {"mark":{"type":"text","text":"R"},"encoding":{"x":{"datum":0.000051,"type":"quantitative","scale":{"type":"log","domain":[0.00003,30],"nice":false},"axis":null},"y":{"datum":9.8,"type":"quantitative","scale":{"type":"log","domain":[0.002,60],"nice":false},"axis":null}}},
  {"mark":{"type":"text","text":"BH","fontSize":21,"dx":19,"dy":6},"encoding":{"x":{"datum":0.000051,"type":"quantitative","scale":{"type":"log","domain":[0.00003,30],"nice":false},"axis":null},"y":{"datum":9.8,"type":"quantitative","scale":{"type":"log","domain":[0.002,60],"nice":false},"axis":null}}},
  {"mark":{"type":"text","dx":48},"encoding":{"text":{"field":"c"},"x":{"datum":0.000051,"type":"quantitative","scale":{"type":"log","domain":[0.00003,30],"nice":false},"axis":null},"y":{"datum":9.8,"type":"quantitative","scale":{"type":"log","domain":[0.002,60],"nice":false},"axis":null}}}
 ]}
]},
{"width":364,"height":364,"resolve":{"axis":{"x":"independent","y":"independent"}},"layer":[
 {"data":{"name":"curves"},"transform":[{"filter":"datum.p==4"}],"mark":{"type":"line","clip":true},"encoding":{
  "x":{"field":"t","type":"quantitative","scale":{"type":"log","domain":[0.00003,30],"nice":false},"axis":{"orient":"bottom","values":[0.0001,0.001,0.01,0.1,1,10],"grid":true,"ticks":false,"title":null}},
  "y":{"field":"tau","type":"quantitative","scale":{"type":"log","domain":[0.002,60],"nice":false},"axis":{"orient":"left","values":[0.01,0.1,1,10],"grid":true,"ticks":false,"labels":true,"labelOverlap":false,"labelExpr":"datum.value < 0.0005 ? '10⁻⁴' : datum.value < 0.005 ? '10⁻³' : datum.value < 0.05 ? '10⁻²' : datum.value < 0.5 ? '10⁻¹' : datum.value < 5 ? '10⁰' : '10¹'","title":"τ"}},
  "detail":{"field":"r"}}},
 {"data":{"name":"panels"},"transform":[{"filter":"datum.p==4"}],"resolve":{"axis":{"x":"independent","y":"independent"}},"layer":[
  {"mark":{"type":"text","text":"N"},"encoding":{"x":{"datum":0.000051,"type":"quantitative","scale":{"type":"log","domain":[0.00003,30],"nice":false},"axis":{"orient":"bottom","values":[0.0001,0.001,0.01,0.1,1,10],"title":null}},"y":{"datum":25.5,"type":"quantitative","scale":{"type":"log","domain":[0.002,60],"nice":false},"axis":{"orient":"left","values":[0.01,0.1,1,10],"title":null}}}},
  {"mark":{"type":"text","text":"i","fontSize":21,"dx":20,"dy":6},"encoding":{"x":{"datum":0.000051,"type":"quantitative","scale":{"type":"log","domain":[0.00003,30],"nice":false},"axis":{"orient":"bottom","tickSize":-6,"values":[0.00004,0.00005,0.00006,0.00007,0.00008,0.00009,0.0002,0.0003,0.0004,0.0005,0.0006,0.0007,0.0008,0.0009,0.002,0.003,0.004,0.005,0.006,0.007,0.008,0.009,0.02,0.03,0.04,0.05,0.06,0.07,0.08,0.09,0.2,0.3,0.4,0.5,0.6,0.7,0.8,0.9,2,3,4,5,6,7,8,9,20],"title":null}},"y":{"datum":25.5,"type":"quantitative","scale":{"type":"log","domain":[0.002,60],"nice":false},"axis":{"orient":"left","tickSize":-6,"values":[0.003,0.004,0.005,0.006,0.007,0.008,0.009,0.02,0.03,0.04,0.05,0.06,0.07,0.08,0.09,0.2,0.3,0.4,0.5,0.6,0.7,0.8,0.9,2,3,4,5,6,7,8,9,20,30,40,50],"title":null}}}},
  {"mark":{"type":"text","dx":27},"encoding":{"text":{"field":"a"},"x":{"datum":0.000051,"type":"quantitative","scale":{"type":"log","domain":[0.00003,30],"nice":false},"axis":{"orient":"top","values":[0.0001,0.001,0.01,0.1,1,10],"title":null}},"y":{"datum":25.5,"type":"quantitative","scale":{"type":"log","domain":[0.002,60],"nice":false},"axis":{"orient":"right","values":[0.01,0.1,1,10],"title":null}}}},
  {"mark":{"type":"text","text":"h,i","fontSize":21,"dx":106,"dy":6},"encoding":{"x":{"datum":0.000051,"type":"quantitative","scale":{"type":"log","domain":[0.00003,30],"nice":false},"axis":{"orient":"top","tickSize":-6,"values":[0.00004,0.00005,0.00006,0.00007,0.00008,0.00009,0.0002,0.0003,0.0004,0.0005,0.0006,0.0007,0.0008,0.0009,0.002,0.003,0.004,0.005,0.006,0.007,0.008,0.009,0.02,0.03,0.04,0.05,0.06,0.07,0.08,0.09,0.2,0.3,0.4,0.5,0.6,0.7,0.8,0.9,2,3,4,5,6,7,8,9,20],"title":null}},"y":{"datum":25.5,"type":"quantitative","scale":{"type":"log","domain":[0.002,60],"nice":false},"axis":{"orient":"right","tickSize":-6,"values":[0.003,0.004,0.005,0.006,0.007,0.008,0.009,0.02,0.03,0.04,0.05,0.06,0.07,0.08,0.09,0.2,0.3,0.4,0.5,0.6,0.7,0.8,0.9,2,3,4,5,6,7,8,9,20,30,40,50],"title":null}}}},
  {"mark":{"type":"text","dx":128},"encoding":{"text":{"field":"b"},"x":{"datum":0.000051,"type":"quantitative","scale":{"type":"log","domain":[0.00003,30],"nice":false},"axis":null},"y":{"datum":25.5,"type":"quantitative","scale":{"type":"log","domain":[0.002,60],"nice":false},"axis":null}}},
  {"mark":{"type":"text","text":"R"},"encoding":{"x":{"datum":0.000051,"type":"quantitative","scale":{"type":"log","domain":[0.00003,30],"nice":false},"axis":null},"y":{"datum":9.8,"type":"quantitative","scale":{"type":"log","domain":[0.002,60],"nice":false},"axis":null}}},
  {"mark":{"type":"text","text":"BH","fontSize":21,"dx":19,"dy":6},"encoding":{"x":{"datum":0.000051,"type":"quantitative","scale":{"type":"log","domain":[0.00003,30],"nice":false},"axis":null},"y":{"datum":9.8,"type":"quantitative","scale":{"type":"log","domain":[0.002,60],"nice":false},"axis":null}}},
  {"mark":{"type":"text","dx":48},"encoding":{"text":{"field":"c"},"x":{"datum":0.000051,"type":"quantitative","scale":{"type":"log","domain":[0.00003,30],"nice":false},"axis":null},"y":{"datum":9.8,"type":"quantitative","scale":{"type":"log","domain":[0.002,60],"nice":false},"axis":null}}}
 ]}
]},
{"width":364,"height":364,"resolve":{"axis":{"x":"independent","y":"independent"}},"layer":[
 {"data":{"name":"curves"},"transform":[{"filter":"datum.p==5"}],"mark":{"type":"line","clip":true},"encoding":{
  "x":{"field":"t","type":"quantitative","scale":{"type":"log","domain":[0.00003,30],"nice":false},"axis":{"orient":"bottom","values":[0.0001,0.001,0.01,0.1,1,10],"grid":true,"ticks":false,"title":null}},
  "y":{"field":"tau","type":"quantitative","scale":{"type":"log","domain":[0.002,60],"nice":false},"axis":{"orient":"left","values":[0.01,0.1,1,10],"grid":true,"ticks":false,"title":null}},
  "detail":{"field":"r"}}},
 {"data":{"name":"panels"},"transform":[{"filter":"datum.p==5"}],"resolve":{"axis":{"x":"independent","y":"independent"}},"layer":[
  {"mark":{"type":"text","text":"N"},"encoding":{"x":{"datum":0.000051,"type":"quantitative","scale":{"type":"log","domain":[0.00003,30],"nice":false},"axis":{"orient":"bottom","values":[0.0001,0.001,0.01,0.1,1,10],"title":null}},"y":{"datum":25.5,"type":"quantitative","scale":{"type":"log","domain":[0.002,60],"nice":false},"axis":{"orient":"left","values":[0.01,0.1,1,10],"title":null}}}},
  {"mark":{"type":"text","text":"i","fontSize":21,"dx":20,"dy":6},"encoding":{"x":{"datum":0.000051,"type":"quantitative","scale":{"type":"log","domain":[0.00003,30],"nice":false},"axis":{"orient":"bottom","tickSize":-6,"values":[0.00004,0.00005,0.00006,0.00007,0.00008,0.00009,0.0002,0.0003,0.0004,0.0005,0.0006,0.0007,0.0008,0.0009,0.002,0.003,0.004,0.005,0.006,0.007,0.008,0.009,0.02,0.03,0.04,0.05,0.06,0.07,0.08,0.09,0.2,0.3,0.4,0.5,0.6,0.7,0.8,0.9,2,3,4,5,6,7,8,9,20],"title":null}},"y":{"datum":25.5,"type":"quantitative","scale":{"type":"log","domain":[0.002,60],"nice":false},"axis":{"orient":"left","tickSize":-6,"values":[0.003,0.004,0.005,0.006,0.007,0.008,0.009,0.02,0.03,0.04,0.05,0.06,0.07,0.08,0.09,0.2,0.3,0.4,0.5,0.6,0.7,0.8,0.9,2,3,4,5,6,7,8,9,20,30,40,50],"title":null}}}},
  {"mark":{"type":"text","dx":27},"encoding":{"text":{"field":"a"},"x":{"datum":0.000051,"type":"quantitative","scale":{"type":"log","domain":[0.00003,30],"nice":false},"axis":{"orient":"top","values":[0.0001,0.001,0.01,0.1,1,10],"title":null}},"y":{"datum":25.5,"type":"quantitative","scale":{"type":"log","domain":[0.002,60],"nice":false},"axis":{"orient":"right","values":[0.01,0.1,1,10],"title":null}}}},
  {"mark":{"type":"text","text":"h,i","fontSize":21,"dx":106,"dy":6},"encoding":{"x":{"datum":0.000051,"type":"quantitative","scale":{"type":"log","domain":[0.00003,30],"nice":false},"axis":{"orient":"top","tickSize":-6,"values":[0.00004,0.00005,0.00006,0.00007,0.00008,0.00009,0.0002,0.0003,0.0004,0.0005,0.0006,0.0007,0.0008,0.0009,0.002,0.003,0.004,0.005,0.006,0.007,0.008,0.009,0.02,0.03,0.04,0.05,0.06,0.07,0.08,0.09,0.2,0.3,0.4,0.5,0.6,0.7,0.8,0.9,2,3,4,5,6,7,8,9,20],"title":null}},"y":{"datum":25.5,"type":"quantitative","scale":{"type":"log","domain":[0.002,60],"nice":false},"axis":{"orient":"right","tickSize":-6,"values":[0.003,0.004,0.005,0.006,0.007,0.008,0.009,0.02,0.03,0.04,0.05,0.06,0.07,0.08,0.09,0.2,0.3,0.4,0.5,0.6,0.7,0.8,0.9,2,3,4,5,6,7,8,9,20,30,40,50],"title":null}}}},
  {"mark":{"type":"text","dx":128},"encoding":{"text":{"field":"b"},"x":{"datum":0.000051,"type":"quantitative","scale":{"type":"log","domain":[0.00003,30],"nice":false},"axis":null},"y":{"datum":25.5,"type":"quantitative","scale":{"type":"log","domain":[0.002,60],"nice":false},"axis":null}}},
  {"mark":{"type":"text","text":"R"},"encoding":{"x":{"datum":0.000051,"type":"quantitative","scale":{"type":"log","domain":[0.00003,30],"nice":false},"axis":null},"y":{"datum":9.8,"type":"quantitative","scale":{"type":"log","domain":[0.002,60],"nice":false},"axis":null}}},
  {"mark":{"type":"text","text":"BH","fontSize":21,"dx":19,"dy":6},"encoding":{"x":{"datum":0.000051,"type":"quantitative","scale":{"type":"log","domain":[0.00003,30],"nice":false},"axis":null},"y":{"datum":9.8,"type":"quantitative","scale":{"type":"log","domain":[0.002,60],"nice":false},"axis":null}}},
  {"mark":{"type":"text","dx":48},"encoding":{"text":{"field":"c"},"x":{"datum":0.000051,"type":"quantitative","scale":{"type":"log","domain":[0.00003,30],"nice":false},"axis":null},"y":{"datum":9.8,"type":"quantitative","scale":{"type":"log","domain":[0.002,60],"nice":false},"axis":null}}}
 ]}
]},
{"width":364,"height":364,"resolve":{"axis":{"x":"independent","y":"independent"}},"layer":[
 {"data":{"name":"curves"},"transform":[{"filter":"datum.p==6"}],"mark":{"type":"line","clip":true},"encoding":{
  "x":{"field":"t","type":"quantitative","scale":{"type":"log","domain":[0.00003,30],"nice":false},"axis":{"orient":"bottom","values":[0.0001,0.001,0.01,0.1,1,10],"grid":true,"ticks":false,"title":null}},
  "y":{"field":"tau","type":"quantitative","scale":{"type":"log","domain":[0.002,60],"nice":false},"axis":{"orient":"left","values":[0.01,0.1,1,10],"grid":true,"ticks":false,"title":null}},
  "detail":{"field":"r"}}},
 {"data":{"name":"panels"},"transform":[{"filter":"datum.p==6"}],"resolve":{"axis":{"x":"independent","y":"independent"}},"layer":[
  {"mark":{"type":"text","text":"N"},"encoding":{"x":{"datum":0.000051,"type":"quantitative","scale":{"type":"log","domain":[0.00003,30],"nice":false},"axis":{"orient":"bottom","values":[0.0001,0.001,0.01,0.1,1,10],"title":null}},"y":{"datum":25.5,"type":"quantitative","scale":{"type":"log","domain":[0.002,60],"nice":false},"axis":{"orient":"left","values":[0.01,0.1,1,10],"title":null}}}},
  {"mark":{"type":"text","text":"i","fontSize":21,"dx":20,"dy":6},"encoding":{"x":{"datum":0.000051,"type":"quantitative","scale":{"type":"log","domain":[0.00003,30],"nice":false},"axis":{"orient":"bottom","tickSize":-6,"values":[0.00004,0.00005,0.00006,0.00007,0.00008,0.00009,0.0002,0.0003,0.0004,0.0005,0.0006,0.0007,0.0008,0.0009,0.002,0.003,0.004,0.005,0.006,0.007,0.008,0.009,0.02,0.03,0.04,0.05,0.06,0.07,0.08,0.09,0.2,0.3,0.4,0.5,0.6,0.7,0.8,0.9,2,3,4,5,6,7,8,9,20],"title":null}},"y":{"datum":25.5,"type":"quantitative","scale":{"type":"log","domain":[0.002,60],"nice":false},"axis":{"orient":"left","tickSize":-6,"values":[0.003,0.004,0.005,0.006,0.007,0.008,0.009,0.02,0.03,0.04,0.05,0.06,0.07,0.08,0.09,0.2,0.3,0.4,0.5,0.6,0.7,0.8,0.9,2,3,4,5,6,7,8,9,20,30,40,50],"title":null}}}},
  {"mark":{"type":"text","dx":27},"encoding":{"text":{"field":"a"},"x":{"datum":0.000051,"type":"quantitative","scale":{"type":"log","domain":[0.00003,30],"nice":false},"axis":{"orient":"top","values":[0.0001,0.001,0.01,0.1,1,10],"title":null}},"y":{"datum":25.5,"type":"quantitative","scale":{"type":"log","domain":[0.002,60],"nice":false},"axis":{"orient":"right","values":[0.01,0.1,1,10],"title":null}}}},
  {"mark":{"type":"text","text":"h,i","fontSize":21,"dx":106,"dy":6},"encoding":{"x":{"datum":0.000051,"type":"quantitative","scale":{"type":"log","domain":[0.00003,30],"nice":false},"axis":{"orient":"top","tickSize":-6,"values":[0.00004,0.00005,0.00006,0.00007,0.00008,0.00009,0.0002,0.0003,0.0004,0.0005,0.0006,0.0007,0.0008,0.0009,0.002,0.003,0.004,0.005,0.006,0.007,0.008,0.009,0.02,0.03,0.04,0.05,0.06,0.07,0.08,0.09,0.2,0.3,0.4,0.5,0.6,0.7,0.8,0.9,2,3,4,5,6,7,8,9,20],"title":null}},"y":{"datum":25.5,"type":"quantitative","scale":{"type":"log","domain":[0.002,60],"nice":false},"axis":{"orient":"right","tickSize":-6,"values":[0.003,0.004,0.005,0.006,0.007,0.008,0.009,0.02,0.03,0.04,0.05,0.06,0.07,0.08,0.09,0.2,0.3,0.4,0.5,0.6,0.7,0.8,0.9,2,3,4,5,6,7,8,9,20,30,40,50],"title":null}}}},
  {"mark":{"type":"text","dx":128},"encoding":{"text":{"field":"b"},"x":{"datum":0.000051,"type":"quantitative","scale":{"type":"log","domain":[0.00003,30],"nice":false},"axis":null},"y":{"datum":25.5,"type":"quantitative","scale":{"type":"log","domain":[0.002,60],"nice":false},"axis":null}}},
  {"mark":{"type":"text","text":"R"},"encoding":{"x":{"datum":0.000051,"type":"quantitative","scale":{"type":"log","domain":[0.00003,30],"nice":false},"axis":null},"y":{"datum":9.8,"type":"quantitative","scale":{"type":"log","domain":[0.002,60],"nice":false},"axis":null}}},
  {"mark":{"type":"text","text":"BH","fontSize":21,"dx":19,"dy":6},"encoding":{"x":{"datum":0.000051,"type":"quantitative","scale":{"type":"log","domain":[0.00003,30],"nice":false},"axis":null},"y":{"datum":9.8,"type":"quantitative","scale":{"type":"log","domain":[0.002,60],"nice":false},"axis":null}}},
  {"mark":{"type":"text","dx":48},"encoding":{"text":{"field":"c"},"x":{"datum":0.000051,"type":"quantitative","scale":{"type":"log","domain":[0.00003,30],"nice":false},"axis":null},"y":{"datum":9.8,"type":"quantitative","scale":{"type":"log","domain":[0.002,60],"nice":false},"axis":null}}}
 ]}
]},
{"width":364,"height":364,"resolve":{"axis":{"x":"independent","y":"independent"}},"layer":[
 {"data":{"name":"curves"},"transform":[{"filter":"datum.p==7"}],"mark":{"type":"line","clip":true},"encoding":{
  "x":{"field":"t","type":"quantitative","scale":{"type":"log","domain":[0.00003,30],"nice":false},"axis":{"orient":"bottom","values":[0.0001,0.001,0.01,0.1,1,10],"grid":true,"ticks":false,"title":null}},
  "y":{"field":"tau","type":"quantitative","scale":{"type":"log","domain":[0.002,60],"nice":false},"axis":{"orient":"left","values":[0.01,0.1,1,10],"grid":true,"ticks":false,"labels":true,"labelOverlap":false,"labelExpr":"datum.value < 0.0005 ? '10⁻⁴' : datum.value < 0.005 ? '10⁻³' : datum.value < 0.05 ? '10⁻²' : datum.value < 0.5 ? '10⁻¹' : datum.value < 5 ? '10⁰' : '10¹'","title":"τ"}},
  "detail":{"field":"r"}}},
 {"data":{"name":"panels"},"transform":[{"filter":"datum.p==7"}],"resolve":{"axis":{"x":"independent","y":"independent"}},"layer":[
  {"mark":{"type":"text","text":"N"},"encoding":{"x":{"datum":0.000051,"type":"quantitative","scale":{"type":"log","domain":[0.00003,30],"nice":false},"axis":{"orient":"bottom","values":[0.0001,0.001,0.01,0.1,1,10],"title":null}},"y":{"datum":25.5,"type":"quantitative","scale":{"type":"log","domain":[0.002,60],"nice":false},"axis":{"orient":"left","values":[0.01,0.1,1,10],"title":null}}}},
  {"mark":{"type":"text","text":"i","fontSize":21,"dx":20,"dy":6},"encoding":{"x":{"datum":0.000051,"type":"quantitative","scale":{"type":"log","domain":[0.00003,30],"nice":false},"axis":{"orient":"bottom","tickSize":-6,"values":[0.00004,0.00005,0.00006,0.00007,0.00008,0.00009,0.0002,0.0003,0.0004,0.0005,0.0006,0.0007,0.0008,0.0009,0.002,0.003,0.004,0.005,0.006,0.007,0.008,0.009,0.02,0.03,0.04,0.05,0.06,0.07,0.08,0.09,0.2,0.3,0.4,0.5,0.6,0.7,0.8,0.9,2,3,4,5,6,7,8,9,20],"title":null}},"y":{"datum":25.5,"type":"quantitative","scale":{"type":"log","domain":[0.002,60],"nice":false},"axis":{"orient":"left","tickSize":-6,"values":[0.003,0.004,0.005,0.006,0.007,0.008,0.009,0.02,0.03,0.04,0.05,0.06,0.07,0.08,0.09,0.2,0.3,0.4,0.5,0.6,0.7,0.8,0.9,2,3,4,5,6,7,8,9,20,30,40,50],"title":null}}}},
  {"mark":{"type":"text","dx":27},"encoding":{"text":{"field":"a"},"x":{"datum":0.000051,"type":"quantitative","scale":{"type":"log","domain":[0.00003,30],"nice":false},"axis":{"orient":"top","values":[0.0001,0.001,0.01,0.1,1,10],"title":null}},"y":{"datum":25.5,"type":"quantitative","scale":{"type":"log","domain":[0.002,60],"nice":false},"axis":{"orient":"right","values":[0.01,0.1,1,10],"title":null}}}},
  {"mark":{"type":"text","text":"h,i","fontSize":21,"dx":106,"dy":6},"encoding":{"x":{"datum":0.000051,"type":"quantitative","scale":{"type":"log","domain":[0.00003,30],"nice":false},"axis":{"orient":"top","tickSize":-6,"values":[0.00004,0.00005,0.00006,0.00007,0.00008,0.00009,0.0002,0.0003,0.0004,0.0005,0.0006,0.0007,0.0008,0.0009,0.002,0.003,0.004,0.005,0.006,0.007,0.008,0.009,0.02,0.03,0.04,0.05,0.06,0.07,0.08,0.09,0.2,0.3,0.4,0.5,0.6,0.7,0.8,0.9,2,3,4,5,6,7,8,9,20],"title":null}},"y":{"datum":25.5,"type":"quantitative","scale":{"type":"log","domain":[0.002,60],"nice":false},"axis":{"orient":"right","tickSize":-6,"values":[0.003,0.004,0.005,0.006,0.007,0.008,0.009,0.02,0.03,0.04,0.05,0.06,0.07,0.08,0.09,0.2,0.3,0.4,0.5,0.6,0.7,0.8,0.9,2,3,4,5,6,7,8,9,20,30,40,50],"title":null}}}},
  {"mark":{"type":"text","dx":128},"encoding":{"text":{"field":"b"},"x":{"datum":0.000051,"type":"quantitative","scale":{"type":"log","domain":[0.00003,30],"nice":false},"axis":null},"y":{"datum":25.5,"type":"quantitative","scale":{"type":"log","domain":[0.002,60],"nice":false},"axis":null}}},
  {"mark":{"type":"text","text":"R"},"encoding":{"x":{"datum":0.000051,"type":"quantitative","scale":{"type":"log","domain":[0.00003,30],"nice":false},"axis":null},"y":{"datum":9.8,"type":"quantitative","scale":{"type":"log","domain":[0.002,60],"nice":false},"axis":null}}},
  {"mark":{"type":"text","text":"BH","fontSize":21,"dx":19,"dy":6},"encoding":{"x":{"datum":0.000051,"type":"quantitative","scale":{"type":"log","domain":[0.00003,30],"nice":false},"axis":null},"y":{"datum":9.8,"type":"quantitative","scale":{"type":"log","domain":[0.002,60],"nice":false},"axis":null}}},
  {"mark":{"type":"text","dx":48},"encoding":{"text":{"field":"c"},"x":{"datum":0.000051,"type":"quantitative","scale":{"type":"log","domain":[0.00003,30],"nice":false},"axis":null},"y":{"datum":9.8,"type":"quantitative","scale":{"type":"log","domain":[0.002,60],"nice":false},"axis":null}}}
 ]}
]},
{"width":364,"height":364,"resolve":{"axis":{"x":"independent","y":"independent"}},"layer":[
 {"data":{"name":"curves"},"transform":[{"filter":"datum.p==8"}],"mark":{"type":"line","clip":true},"encoding":{
  "x":{"field":"t","type":"quantitative","scale":{"type":"log","domain":[0.00003,30],"nice":false},"axis":{"orient":"bottom","values":[0.0001,0.001,0.01,0.1,1,10],"grid":true,"ticks":false,"title":null}},
  "y":{"field":"tau","type":"quantitative","scale":{"type":"log","domain":[0.002,60],"nice":false},"axis":{"orient":"left","values":[0.01,0.1,1,10],"grid":true,"ticks":false,"title":null}},
  "detail":{"field":"r"}}},
 {"data":{"name":"panels"},"transform":[{"filter":"datum.p==8"}],"resolve":{"axis":{"x":"independent","y":"independent"}},"layer":[
  {"mark":{"type":"text","text":"N"},"encoding":{"x":{"datum":0.000051,"type":"quantitative","scale":{"type":"log","domain":[0.00003,30],"nice":false},"axis":{"orient":"bottom","values":[0.0001,0.001,0.01,0.1,1,10],"title":null}},"y":{"datum":25.5,"type":"quantitative","scale":{"type":"log","domain":[0.002,60],"nice":false},"axis":{"orient":"left","values":[0.01,0.1,1,10],"title":null}}}},
  {"mark":{"type":"text","text":"i","fontSize":21,"dx":20,"dy":6},"encoding":{"x":{"datum":0.000051,"type":"quantitative","scale":{"type":"log","domain":[0.00003,30],"nice":false},"axis":{"orient":"bottom","tickSize":-6,"values":[0.00004,0.00005,0.00006,0.00007,0.00008,0.00009,0.0002,0.0003,0.0004,0.0005,0.0006,0.0007,0.0008,0.0009,0.002,0.003,0.004,0.005,0.006,0.007,0.008,0.009,0.02,0.03,0.04,0.05,0.06,0.07,0.08,0.09,0.2,0.3,0.4,0.5,0.6,0.7,0.8,0.9,2,3,4,5,6,7,8,9,20],"title":null}},"y":{"datum":25.5,"type":"quantitative","scale":{"type":"log","domain":[0.002,60],"nice":false},"axis":{"orient":"left","tickSize":-6,"values":[0.003,0.004,0.005,0.006,0.007,0.008,0.009,0.02,0.03,0.04,0.05,0.06,0.07,0.08,0.09,0.2,0.3,0.4,0.5,0.6,0.7,0.8,0.9,2,3,4,5,6,7,8,9,20,30,40,50],"title":null}}}},
  {"mark":{"type":"text","dx":27},"encoding":{"text":{"field":"a"},"x":{"datum":0.000051,"type":"quantitative","scale":{"type":"log","domain":[0.00003,30],"nice":false},"axis":{"orient":"top","values":[0.0001,0.001,0.01,0.1,1,10],"title":null}},"y":{"datum":25.5,"type":"quantitative","scale":{"type":"log","domain":[0.002,60],"nice":false},"axis":{"orient":"right","values":[0.01,0.1,1,10],"title":null}}}},
  {"mark":{"type":"text","text":"h,i","fontSize":21,"dx":106,"dy":6},"encoding":{"x":{"datum":0.000051,"type":"quantitative","scale":{"type":"log","domain":[0.00003,30],"nice":false},"axis":{"orient":"top","tickSize":-6,"values":[0.00004,0.00005,0.00006,0.00007,0.00008,0.00009,0.0002,0.0003,0.0004,0.0005,0.0006,0.0007,0.0008,0.0009,0.002,0.003,0.004,0.005,0.006,0.007,0.008,0.009,0.02,0.03,0.04,0.05,0.06,0.07,0.08,0.09,0.2,0.3,0.4,0.5,0.6,0.7,0.8,0.9,2,3,4,5,6,7,8,9,20],"title":null}},"y":{"datum":25.5,"type":"quantitative","scale":{"type":"log","domain":[0.002,60],"nice":false},"axis":{"orient":"right","tickSize":-6,"values":[0.003,0.004,0.005,0.006,0.007,0.008,0.009,0.02,0.03,0.04,0.05,0.06,0.07,0.08,0.09,0.2,0.3,0.4,0.5,0.6,0.7,0.8,0.9,2,3,4,5,6,7,8,9,20,30,40,50],"title":null}}}},
  {"mark":{"type":"text","dx":128},"encoding":{"text":{"field":"b"},"x":{"datum":0.000051,"type":"quantitative","scale":{"type":"log","domain":[0.00003,30],"nice":false},"axis":null},"y":{"datum":25.5,"type":"quantitative","scale":{"type":"log","domain":[0.002,60],"nice":false},"axis":null}}},
  {"mark":{"type":"text","text":"R"},"encoding":{"x":{"datum":0.000051,"type":"quantitative","scale":{"type":"log","domain":[0.00003,30],"nice":false},"axis":null},"y":{"datum":9.8,"type":"quantitative","scale":{"type":"log","domain":[0.002,60],"nice":false},"axis":null}}},
  {"mark":{"type":"text","text":"BH","fontSize":21,"dx":19,"dy":6},"encoding":{"x":{"datum":0.000051,"type":"quantitative","scale":{"type":"log","domain":[0.00003,30],"nice":false},"axis":null},"y":{"datum":9.8,"type":"quantitative","scale":{"type":"log","domain":[0.002,60],"nice":false},"axis":null}}},
  {"mark":{"type":"text","dx":48},"encoding":{"text":{"field":"c"},"x":{"datum":0.000051,"type":"quantitative","scale":{"type":"log","domain":[0.00003,30],"nice":false},"axis":null},"y":{"datum":9.8,"type":"quantitative","scale":{"type":"log","domain":[0.002,60],"nice":false},"axis":null}}}
 ]}
]},
{"width":364,"height":364,"resolve":{"axis":{"x":"independent","y":"independent"}},"layer":[
 {"data":{"name":"curves"},"transform":[{"filter":"datum.p==9"}],"mark":{"type":"line","clip":true},"encoding":{
  "x":{"field":"t","type":"quantitative","scale":{"type":"log","domain":[0.00003,30],"nice":false},"axis":{"orient":"bottom","values":[0.0001,0.001,0.01,0.1,1,10],"grid":true,"ticks":false,"title":null}},
  "y":{"field":"tau","type":"quantitative","scale":{"type":"log","domain":[0.002,60],"nice":false},"axis":{"orient":"left","values":[0.01,0.1,1,10],"grid":true,"ticks":false,"title":null}},
  "detail":{"field":"r"}}},
 {"data":{"name":"panels"},"transform":[{"filter":"datum.p==9"}],"resolve":{"axis":{"x":"independent","y":"independent"}},"layer":[
  {"mark":{"type":"text","text":"N"},"encoding":{"x":{"datum":0.000051,"type":"quantitative","scale":{"type":"log","domain":[0.00003,30],"nice":false},"axis":{"orient":"bottom","values":[0.0001,0.001,0.01,0.1,1,10],"title":null}},"y":{"datum":25.5,"type":"quantitative","scale":{"type":"log","domain":[0.002,60],"nice":false},"axis":{"orient":"left","values":[0.01,0.1,1,10],"title":null}}}},
  {"mark":{"type":"text","text":"i","fontSize":21,"dx":20,"dy":6},"encoding":{"x":{"datum":0.000051,"type":"quantitative","scale":{"type":"log","domain":[0.00003,30],"nice":false},"axis":{"orient":"bottom","tickSize":-6,"values":[0.00004,0.00005,0.00006,0.00007,0.00008,0.00009,0.0002,0.0003,0.0004,0.0005,0.0006,0.0007,0.0008,0.0009,0.002,0.003,0.004,0.005,0.006,0.007,0.008,0.009,0.02,0.03,0.04,0.05,0.06,0.07,0.08,0.09,0.2,0.3,0.4,0.5,0.6,0.7,0.8,0.9,2,3,4,5,6,7,8,9,20],"title":null}},"y":{"datum":25.5,"type":"quantitative","scale":{"type":"log","domain":[0.002,60],"nice":false},"axis":{"orient":"left","tickSize":-6,"values":[0.003,0.004,0.005,0.006,0.007,0.008,0.009,0.02,0.03,0.04,0.05,0.06,0.07,0.08,0.09,0.2,0.3,0.4,0.5,0.6,0.7,0.8,0.9,2,3,4,5,6,7,8,9,20,30,40,50],"title":null}}}},
  {"mark":{"type":"text","dx":27},"encoding":{"text":{"field":"a"},"x":{"datum":0.000051,"type":"quantitative","scale":{"type":"log","domain":[0.00003,30],"nice":false},"axis":{"orient":"top","values":[0.0001,0.001,0.01,0.1,1,10],"title":null}},"y":{"datum":25.5,"type":"quantitative","scale":{"type":"log","domain":[0.002,60],"nice":false},"axis":{"orient":"right","values":[0.01,0.1,1,10],"title":null}}}},
  {"mark":{"type":"text","text":"h,i","fontSize":21,"dx":106,"dy":6},"encoding":{"x":{"datum":0.000051,"type":"quantitative","scale":{"type":"log","domain":[0.00003,30],"nice":false},"axis":{"orient":"top","tickSize":-6,"values":[0.00004,0.00005,0.00006,0.00007,0.00008,0.00009,0.0002,0.0003,0.0004,0.0005,0.0006,0.0007,0.0008,0.0009,0.002,0.003,0.004,0.005,0.006,0.007,0.008,0.009,0.02,0.03,0.04,0.05,0.06,0.07,0.08,0.09,0.2,0.3,0.4,0.5,0.6,0.7,0.8,0.9,2,3,4,5,6,7,8,9,20],"title":null}},"y":{"datum":25.5,"type":"quantitative","scale":{"type":"log","domain":[0.002,60],"nice":false},"axis":{"orient":"right","tickSize":-6,"values":[0.003,0.004,0.005,0.006,0.007,0.008,0.009,0.02,0.03,0.04,0.05,0.06,0.07,0.08,0.09,0.2,0.3,0.4,0.5,0.6,0.7,0.8,0.9,2,3,4,5,6,7,8,9,20,30,40,50],"title":null}}}},
  {"mark":{"type":"text","dx":128},"encoding":{"text":{"field":"b"},"x":{"datum":0.000051,"type":"quantitative","scale":{"type":"log","domain":[0.00003,30],"nice":false},"axis":null},"y":{"datum":25.5,"type":"quantitative","scale":{"type":"log","domain":[0.002,60],"nice":false},"axis":null}}},
  {"mark":{"type":"text","text":"R"},"encoding":{"x":{"datum":0.000051,"type":"quantitative","scale":{"type":"log","domain":[0.00003,30],"nice":false},"axis":null},"y":{"datum":9.8,"type":"quantitative","scale":{"type":"log","domain":[0.002,60],"nice":false},"axis":null}}},
  {"mark":{"type":"text","text":"BH","fontSize":21,"dx":19,"dy":6},"encoding":{"x":{"datum":0.000051,"type":"quantitative","scale":{"type":"log","domain":[0.00003,30],"nice":false},"axis":null},"y":{"datum":9.8,"type":"quantitative","scale":{"type":"log","domain":[0.002,60],"nice":false},"axis":null}}},
  {"mark":{"type":"text","dx":48},"encoding":{"text":{"field":"c"},"x":{"datum":0.000051,"type":"quantitative","scale":{"type":"log","domain":[0.00003,30],"nice":false},"axis":null},"y":{"datum":9.8,"type":"quantitative","scale":{"type":"log","domain":[0.002,60],"nice":false},"axis":null}}}
 ]}
]},
{"width":364,"height":364,"resolve":{"axis":{"x":"independent","y":"independent"}},"layer":[
 {"data":{"name":"curves"},"transform":[{"filter":"datum.p==10"}],"mark":{"type":"line","clip":true},"encoding":{
  "x":{"field":"t","type":"quantitative","scale":{"type":"log","domain":[0.00003,30],"nice":false},"axis":{"orient":"bottom","values":[0.0001,0.001,0.01,0.1,1,10],"grid":true,"ticks":false,"labels":true,"labelOverlap":false,"labelExpr":"datum.value < 0.0005 ? '10⁻⁴' : datum.value < 0.005 ? '10⁻³' : datum.value < 0.05 ? '10⁻²' : datum.value < 0.5 ? '10⁻¹' : datum.value < 5 ? '10⁰' : '10¹'","title":"t [Gyr]"}},
  "y":{"field":"tau","type":"quantitative","scale":{"type":"log","domain":[0.002,60],"nice":false},"axis":{"orient":"left","values":[0.01,0.1,1,10],"grid":true,"ticks":false,"labels":true,"labelOverlap":false,"labelExpr":"datum.value < 0.0005 ? '10⁻⁴' : datum.value < 0.005 ? '10⁻³' : datum.value < 0.05 ? '10⁻²' : datum.value < 0.5 ? '10⁻¹' : datum.value < 5 ? '10⁰' : '10¹'","title":"τ"}},
  "detail":{"field":"r"}}},
 {"data":{"name":"panels"},"transform":[{"filter":"datum.p==10"}],"resolve":{"axis":{"x":"independent","y":"independent"}},"layer":[
  {"mark":{"type":"text","text":"N"},"encoding":{"x":{"datum":0.000051,"type":"quantitative","scale":{"type":"log","domain":[0.00003,30],"nice":false},"axis":{"orient":"bottom","values":[0.0001,0.001,0.01,0.1,1,10],"title":null}},"y":{"datum":25.5,"type":"quantitative","scale":{"type":"log","domain":[0.002,60],"nice":false},"axis":{"orient":"left","values":[0.01,0.1,1,10],"title":null}}}},
  {"mark":{"type":"text","text":"i","fontSize":21,"dx":20,"dy":6},"encoding":{"x":{"datum":0.000051,"type":"quantitative","scale":{"type":"log","domain":[0.00003,30],"nice":false},"axis":{"orient":"bottom","tickSize":-6,"values":[0.00004,0.00005,0.00006,0.00007,0.00008,0.00009,0.0002,0.0003,0.0004,0.0005,0.0006,0.0007,0.0008,0.0009,0.002,0.003,0.004,0.005,0.006,0.007,0.008,0.009,0.02,0.03,0.04,0.05,0.06,0.07,0.08,0.09,0.2,0.3,0.4,0.5,0.6,0.7,0.8,0.9,2,3,4,5,6,7,8,9,20],"title":null}},"y":{"datum":25.5,"type":"quantitative","scale":{"type":"log","domain":[0.002,60],"nice":false},"axis":{"orient":"left","tickSize":-6,"values":[0.003,0.004,0.005,0.006,0.007,0.008,0.009,0.02,0.03,0.04,0.05,0.06,0.07,0.08,0.09,0.2,0.3,0.4,0.5,0.6,0.7,0.8,0.9,2,3,4,5,6,7,8,9,20,30,40,50],"title":null}}}},
  {"mark":{"type":"text","dx":27},"encoding":{"text":{"field":"a"},"x":{"datum":0.000051,"type":"quantitative","scale":{"type":"log","domain":[0.00003,30],"nice":false},"axis":{"orient":"top","values":[0.0001,0.001,0.01,0.1,1,10],"title":null}},"y":{"datum":25.5,"type":"quantitative","scale":{"type":"log","domain":[0.002,60],"nice":false},"axis":{"orient":"right","values":[0.01,0.1,1,10],"title":null}}}},
  {"mark":{"type":"text","text":"h,i","fontSize":21,"dx":106,"dy":6},"encoding":{"x":{"datum":0.000051,"type":"quantitative","scale":{"type":"log","domain":[0.00003,30],"nice":false},"axis":{"orient":"top","tickSize":-6,"values":[0.00004,0.00005,0.00006,0.00007,0.00008,0.00009,0.0002,0.0003,0.0004,0.0005,0.0006,0.0007,0.0008,0.0009,0.002,0.003,0.004,0.005,0.006,0.007,0.008,0.009,0.02,0.03,0.04,0.05,0.06,0.07,0.08,0.09,0.2,0.3,0.4,0.5,0.6,0.7,0.8,0.9,2,3,4,5,6,7,8,9,20],"title":null}},"y":{"datum":25.5,"type":"quantitative","scale":{"type":"log","domain":[0.002,60],"nice":false},"axis":{"orient":"right","tickSize":-6,"values":[0.003,0.004,0.005,0.006,0.007,0.008,0.009,0.02,0.03,0.04,0.05,0.06,0.07,0.08,0.09,0.2,0.3,0.4,0.5,0.6,0.7,0.8,0.9,2,3,4,5,6,7,8,9,20,30,40,50],"title":null}}}},
  {"mark":{"type":"text","dx":128},"encoding":{"text":{"field":"b"},"x":{"datum":0.000051,"type":"quantitative","scale":{"type":"log","domain":[0.00003,30],"nice":false},"axis":null},"y":{"datum":25.5,"type":"quantitative","scale":{"type":"log","domain":[0.002,60],"nice":false},"axis":null}}},
  {"mark":{"type":"text","text":"R"},"encoding":{"x":{"datum":0.000051,"type":"quantitative","scale":{"type":"log","domain":[0.00003,30],"nice":false},"axis":null},"y":{"datum":9.8,"type":"quantitative","scale":{"type":"log","domain":[0.002,60],"nice":false},"axis":null}}},
  {"mark":{"type":"text","text":"BH","fontSize":21,"dx":19,"dy":6},"encoding":{"x":{"datum":0.000051,"type":"quantitative","scale":{"type":"log","domain":[0.00003,30],"nice":false},"axis":null},"y":{"datum":9.8,"type":"quantitative","scale":{"type":"log","domain":[0.002,60],"nice":false},"axis":null}}},
  {"mark":{"type":"text","dx":48},"encoding":{"text":{"field":"c"},"x":{"datum":0.000051,"type":"quantitative","scale":{"type":"log","domain":[0.00003,30],"nice":false},"axis":null},"y":{"datum":9.8,"type":"quantitative","scale":{"type":"log","domain":[0.002,60],"nice":false},"axis":null}}},
  {"mark":{"type":"text","text":"N"},"encoding":{"x":{"datum":0.153,"type":"quantitative","scale":{"type":"log","domain":[0.00003,30],"nice":false},"axis":null},"y":{"datum":0.0247,"type":"quantitative","scale":{"type":"log","domain":[0.002,60],"nice":false},"axis":null}}},
  {"mark":{"type":"text","text":"i","fontSize":21,"dx":20,"dy":6},"encoding":{"x":{"datum":0.153,"type":"quantitative","scale":{"type":"log","domain":[0.00003,30],"nice":false},"axis":null},"y":{"datum":0.0247,"type":"quantitative","scale":{"type":"log","domain":[0.002,60],"nice":false},"axis":null}}},
  {"mark":{"type":"text","dx":27},"encoding":{"text":{"field":"d"},"x":{"datum":0.153,"type":"quantitative","scale":{"type":"log","domain":[0.00003,30],"nice":false},"axis":null},"y":{"datum":0.0247,"type":"quantitative","scale":{"type":"log","domain":[0.002,60],"nice":false},"axis":null}}},
  {"mark":{"type":"rule","color":"black","strokeWidth":1.3},"encoding":{"x":{"datum":1,"type":"quantitative","scale":{"type":"log","domain":[0.00003,30],"nice":false},"axis":null},"y":{"datum":0.05,"type":"quantitative","scale":{"type":"log","domain":[0.002,60],"nice":false},"axis":null},"y2":{"datum":0.2}}},
  {"mark":{"type":"point","shape":"M -0.33 1 L 0 0 L 0.33 1","filled":false,"color":"black","strokeWidth":1.3,"size":576,"opacity":1},"encoding":{"x":{"datum":1,"type":"quantitative","scale":{"type":"log","domain":[0.00003,30],"nice":false},"axis":null},"y":{"datum":0.2,"type":"quantitative","scale":{"type":"log","domain":[0.002,60],"nice":false},"axis":null}}}
 ]}
]},
{"width":364,"height":364,"resolve":{"axis":{"x":"independent","y":"independent"}},"layer":[
 {"data":{"name":"curves"},"transform":[{"filter":"datum.p==11"}],"mark":{"type":"line","clip":true},"encoding":{
  "x":{"field":"t","type":"quantitative","scale":{"type":"log","domain":[0.00003,30],"nice":false},"axis":{"orient":"bottom","values":[0.0001,0.001,0.01,0.1,1,10],"grid":true,"ticks":false,"labels":true,"labelOverlap":false,"labelExpr":"datum.value < 0.0005 ? '10⁻⁴' : datum.value < 0.005 ? '10⁻³' : datum.value < 0.05 ? '10⁻²' : datum.value < 0.5 ? '10⁻¹' : datum.value < 5 ? '10⁰' : '10¹'","title":"t [Gyr]"}},
  "y":{"field":"tau","type":"quantitative","scale":{"type":"log","domain":[0.002,60],"nice":false},"axis":{"orient":"left","values":[0.01,0.1,1,10],"grid":true,"ticks":false,"title":null}},
  "detail":{"field":"r"}}},
 {"data":{"name":"panels"},"transform":[{"filter":"datum.p==11"}],"resolve":{"axis":{"x":"independent","y":"independent"}},"layer":[
  {"mark":{"type":"text","text":"N"},"encoding":{"x":{"datum":0.000051,"type":"quantitative","scale":{"type":"log","domain":[0.00003,30],"nice":false},"axis":{"orient":"bottom","values":[0.0001,0.001,0.01,0.1,1,10],"title":null}},"y":{"datum":25.5,"type":"quantitative","scale":{"type":"log","domain":[0.002,60],"nice":false},"axis":{"orient":"left","values":[0.01,0.1,1,10],"title":null}}}},
  {"mark":{"type":"text","text":"i","fontSize":21,"dx":20,"dy":6},"encoding":{"x":{"datum":0.000051,"type":"quantitative","scale":{"type":"log","domain":[0.00003,30],"nice":false},"axis":{"orient":"bottom","tickSize":-6,"values":[0.00004,0.00005,0.00006,0.00007,0.00008,0.00009,0.0002,0.0003,0.0004,0.0005,0.0006,0.0007,0.0008,0.0009,0.002,0.003,0.004,0.005,0.006,0.007,0.008,0.009,0.02,0.03,0.04,0.05,0.06,0.07,0.08,0.09,0.2,0.3,0.4,0.5,0.6,0.7,0.8,0.9,2,3,4,5,6,7,8,9,20],"title":null}},"y":{"datum":25.5,"type":"quantitative","scale":{"type":"log","domain":[0.002,60],"nice":false},"axis":{"orient":"left","tickSize":-6,"values":[0.003,0.004,0.005,0.006,0.007,0.008,0.009,0.02,0.03,0.04,0.05,0.06,0.07,0.08,0.09,0.2,0.3,0.4,0.5,0.6,0.7,0.8,0.9,2,3,4,5,6,7,8,9,20,30,40,50],"title":null}}}},
  {"mark":{"type":"text","dx":27},"encoding":{"text":{"field":"a"},"x":{"datum":0.000051,"type":"quantitative","scale":{"type":"log","domain":[0.00003,30],"nice":false},"axis":{"orient":"top","values":[0.0001,0.001,0.01,0.1,1,10],"title":null}},"y":{"datum":25.5,"type":"quantitative","scale":{"type":"log","domain":[0.002,60],"nice":false},"axis":{"orient":"right","values":[0.01,0.1,1,10],"title":null}}}},
  {"mark":{"type":"text","text":"h,i","fontSize":21,"dx":106,"dy":6},"encoding":{"x":{"datum":0.000051,"type":"quantitative","scale":{"type":"log","domain":[0.00003,30],"nice":false},"axis":{"orient":"top","tickSize":-6,"values":[0.00004,0.00005,0.00006,0.00007,0.00008,0.00009,0.0002,0.0003,0.0004,0.0005,0.0006,0.0007,0.0008,0.0009,0.002,0.003,0.004,0.005,0.006,0.007,0.008,0.009,0.02,0.03,0.04,0.05,0.06,0.07,0.08,0.09,0.2,0.3,0.4,0.5,0.6,0.7,0.8,0.9,2,3,4,5,6,7,8,9,20],"title":null}},"y":{"datum":25.5,"type":"quantitative","scale":{"type":"log","domain":[0.002,60],"nice":false},"axis":{"orient":"right","tickSize":-6,"values":[0.003,0.004,0.005,0.006,0.007,0.008,0.009,0.02,0.03,0.04,0.05,0.06,0.07,0.08,0.09,0.2,0.3,0.4,0.5,0.6,0.7,0.8,0.9,2,3,4,5,6,7,8,9,20,30,40,50],"title":null}}}},
  {"mark":{"type":"text","dx":128},"encoding":{"text":{"field":"b"},"x":{"datum":0.000051,"type":"quantitative","scale":{"type":"log","domain":[0.00003,30],"nice":false},"axis":null},"y":{"datum":25.5,"type":"quantitative","scale":{"type":"log","domain":[0.002,60],"nice":false},"axis":null}}},
  {"mark":{"type":"text","text":"R"},"encoding":{"x":{"datum":0.000051,"type":"quantitative","scale":{"type":"log","domain":[0.00003,30],"nice":false},"axis":null},"y":{"datum":9.8,"type":"quantitative","scale":{"type":"log","domain":[0.002,60],"nice":false},"axis":null}}},
  {"mark":{"type":"text","text":"BH","fontSize":21,"dx":19,"dy":6},"encoding":{"x":{"datum":0.000051,"type":"quantitative","scale":{"type":"log","domain":[0.00003,30],"nice":false},"axis":null},"y":{"datum":9.8,"type":"quantitative","scale":{"type":"log","domain":[0.002,60],"nice":false},"axis":null}}},
  {"mark":{"type":"text","dx":48},"encoding":{"text":{"field":"c"},"x":{"datum":0.000051,"type":"quantitative","scale":{"type":"log","domain":[0.00003,30],"nice":false},"axis":null},"y":{"datum":9.8,"type":"quantitative","scale":{"type":"log","domain":[0.002,60],"nice":false},"axis":null}}}
 ]}
]},
{"width":364,"height":364,"resolve":{"axis":{"x":"independent","y":"independent"}},"layer":[
 {"data":{"name":"curves"},"transform":[{"filter":"datum.p==12"}],"mark":{"type":"line","clip":true},"encoding":{
  "x":{"field":"t","type":"quantitative","scale":{"type":"log","domain":[0.00003,30],"nice":false},"axis":{"orient":"bottom","values":[0.0001,0.001,0.01,0.1,1,10],"grid":true,"ticks":false,"labels":true,"labelOverlap":false,"labelExpr":"datum.value < 0.0005 ? '10⁻⁴' : datum.value < 0.005 ? '10⁻³' : datum.value < 0.05 ? '10⁻²' : datum.value < 0.5 ? '10⁻¹' : datum.value < 5 ? '10⁰' : '10¹'","title":"t [Gyr]"}},
  "y":{"field":"tau","type":"quantitative","scale":{"type":"log","domain":[0.002,60],"nice":false},"axis":{"orient":"left","values":[0.01,0.1,1,10],"grid":true,"ticks":false,"title":null}},
  "detail":{"field":"r"}}},
 {"data":{"name":"panels"},"transform":[{"filter":"datum.p==12"}],"resolve":{"axis":{"x":"independent","y":"independent"}},"layer":[
  {"mark":{"type":"text","text":"N"},"encoding":{"x":{"datum":0.000051,"type":"quantitative","scale":{"type":"log","domain":[0.00003,30],"nice":false},"axis":{"orient":"bottom","values":[0.0001,0.001,0.01,0.1,1,10],"title":null}},"y":{"datum":25.5,"type":"quantitative","scale":{"type":"log","domain":[0.002,60],"nice":false},"axis":{"orient":"left","values":[0.01,0.1,1,10],"title":null}}}},
  {"mark":{"type":"text","text":"i","fontSize":21,"dx":20,"dy":6},"encoding":{"x":{"datum":0.000051,"type":"quantitative","scale":{"type":"log","domain":[0.00003,30],"nice":false},"axis":{"orient":"bottom","tickSize":-6,"values":[0.00004,0.00005,0.00006,0.00007,0.00008,0.00009,0.0002,0.0003,0.0004,0.0005,0.0006,0.0007,0.0008,0.0009,0.002,0.003,0.004,0.005,0.006,0.007,0.008,0.009,0.02,0.03,0.04,0.05,0.06,0.07,0.08,0.09,0.2,0.3,0.4,0.5,0.6,0.7,0.8,0.9,2,3,4,5,6,7,8,9,20],"title":null}},"y":{"datum":25.5,"type":"quantitative","scale":{"type":"log","domain":[0.002,60],"nice":false},"axis":{"orient":"left","tickSize":-6,"values":[0.003,0.004,0.005,0.006,0.007,0.008,0.009,0.02,0.03,0.04,0.05,0.06,0.07,0.08,0.09,0.2,0.3,0.4,0.5,0.6,0.7,0.8,0.9,2,3,4,5,6,7,8,9,20,30,40,50],"title":null}}}},
  {"mark":{"type":"text","dx":27},"encoding":{"text":{"field":"a"},"x":{"datum":0.000051,"type":"quantitative","scale":{"type":"log","domain":[0.00003,30],"nice":false},"axis":{"orient":"top","values":[0.0001,0.001,0.01,0.1,1,10],"title":null}},"y":{"datum":25.5,"type":"quantitative","scale":{"type":"log","domain":[0.002,60],"nice":false},"axis":{"orient":"right","values":[0.01,0.1,1,10],"title":null}}}},
  {"mark":{"type":"text","text":"h,i","fontSize":21,"dx":106,"dy":6},"encoding":{"x":{"datum":0.000051,"type":"quantitative","scale":{"type":"log","domain":[0.00003,30],"nice":false},"axis":{"orient":"top","tickSize":-6,"values":[0.00004,0.00005,0.00006,0.00007,0.00008,0.00009,0.0002,0.0003,0.0004,0.0005,0.0006,0.0007,0.0008,0.0009,0.002,0.003,0.004,0.005,0.006,0.007,0.008,0.009,0.02,0.03,0.04,0.05,0.06,0.07,0.08,0.09,0.2,0.3,0.4,0.5,0.6,0.7,0.8,0.9,2,3,4,5,6,7,8,9,20],"title":null}},"y":{"datum":25.5,"type":"quantitative","scale":{"type":"log","domain":[0.002,60],"nice":false},"axis":{"orient":"right","tickSize":-6,"values":[0.003,0.004,0.005,0.006,0.007,0.008,0.009,0.02,0.03,0.04,0.05,0.06,0.07,0.08,0.09,0.2,0.3,0.4,0.5,0.6,0.7,0.8,0.9,2,3,4,5,6,7,8,9,20,30,40,50],"title":null}}}},
  {"mark":{"type":"text","dx":128},"encoding":{"text":{"field":"b"},"x":{"datum":0.000051,"type":"quantitative","scale":{"type":"log","domain":[0.00003,30],"nice":false},"axis":null},"y":{"datum":25.5,"type":"quantitative","scale":{"type":"log","domain":[0.002,60],"nice":false},"axis":null}}},
  {"mark":{"type":"text","text":"R"},"encoding":{"x":{"datum":0.000051,"type":"quantitative","scale":{"type":"log","domain":[0.00003,30],"nice":false},"axis":null},"y":{"datum":9.8,"type":"quantitative","scale":{"type":"log","domain":[0.002,60],"nice":false},"axis":null}}},
  {"mark":{"type":"text","text":"BH","fontSize":21,"dx":19,"dy":6},"encoding":{"x":{"datum":0.000051,"type":"quantitative","scale":{"type":"log","domain":[0.00003,30],"nice":false},"axis":null},"y":{"datum":9.8,"type":"quantitative","scale":{"type":"log","domain":[0.002,60],"nice":false},"axis":null}}},
  {"mark":{"type":"text","dx":48},"encoding":{"text":{"field":"c"},"x":{"datum":0.000051,"type":"quantitative","scale":{"type":"log","domain":[0.00003,30],"nice":false},"axis":null},"y":{"datum":9.8,"type":"quantitative","scale":{"type":"log","domain":[0.002,60],"nice":false},"axis":null}}}
 ]}
]}
]
}
